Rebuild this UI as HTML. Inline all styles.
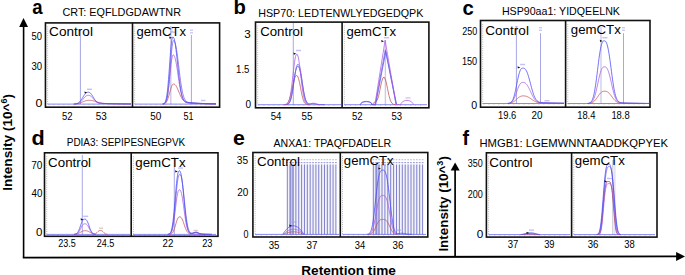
<!DOCTYPE html><html><head><meta charset="utf-8"><style>html,body{margin:0;padding:0;background:#fff;width:685px;height:275px;overflow:hidden}svg{display:block}text{font-family:"Liberation Sans", sans-serif}</style></head><body>
<svg width="685" height="275" viewBox="0 0 685 275">
<line x1="47.65" y1="26.40" x2="47.65" y2="104.10" stroke="#8c8c8c" stroke-width="0.75" stroke-dasharray="0.8 1.4"/>
<line x1="48.45" y1="104.90" x2="128.50" y2="104.90" stroke="#a8a8a8" stroke-width="0.60" stroke-dasharray="0.8 4.2"/>
<line x1="134.70" y1="26.40" x2="134.70" y2="104.10" stroke="#8c8c8c" stroke-width="0.75" stroke-dasharray="0.8 1.4"/>
<line x1="135.50" y1="104.90" x2="215.60" y2="104.90" stroke="#a8a8a8" stroke-width="0.60" stroke-dasharray="0.8 4.2"/>
<line x1="257.70" y1="25.60" x2="257.70" y2="104.70" stroke="#8c8c8c" stroke-width="0.75" stroke-dasharray="0.8 1.4"/>
<line x1="258.50" y1="105.50" x2="338.10" y2="105.50" stroke="#a8a8a8" stroke-width="0.60" stroke-dasharray="0.8 4.2"/>
<line x1="344.30" y1="25.60" x2="344.30" y2="104.70" stroke="#8c8c8c" stroke-width="0.75" stroke-dasharray="0.8 1.4"/>
<line x1="345.10" y1="105.50" x2="424.90" y2="105.50" stroke="#a8a8a8" stroke-width="0.60" stroke-dasharray="0.8 4.2"/>
<line x1="482.70" y1="24.00" x2="482.70" y2="103.50" stroke="#8c8c8c" stroke-width="0.75" stroke-dasharray="0.8 1.4"/>
<line x1="483.50" y1="104.30" x2="561.60" y2="104.30" stroke="#a8a8a8" stroke-width="0.60" stroke-dasharray="0.8 4.2"/>
<line x1="567.80" y1="24.00" x2="567.80" y2="103.50" stroke="#8c8c8c" stroke-width="0.75" stroke-dasharray="0.8 1.4"/>
<line x1="568.60" y1="104.30" x2="646.00" y2="104.30" stroke="#a8a8a8" stroke-width="0.60" stroke-dasharray="0.8 4.2"/>
<line x1="46.70" y1="156.30" x2="46.70" y2="234.40" stroke="#8c8c8c" stroke-width="0.75" stroke-dasharray="0.8 1.4"/>
<line x1="47.50" y1="235.20" x2="127.20" y2="235.20" stroke="#a8a8a8" stroke-width="0.60" stroke-dasharray="0.8 4.2"/>
<line x1="133.40" y1="156.30" x2="133.40" y2="234.40" stroke="#8c8c8c" stroke-width="0.75" stroke-dasharray="0.8 1.4"/>
<line x1="134.20" y1="235.20" x2="214.00" y2="235.20" stroke="#a8a8a8" stroke-width="0.60" stroke-dasharray="0.8 4.2"/>
<line x1="255.10" y1="156.00" x2="255.10" y2="234.40" stroke="#8c8c8c" stroke-width="0.75" stroke-dasharray="0.8 1.4"/>
<line x1="255.90" y1="235.20" x2="336.30" y2="235.20" stroke="#a8a8a8" stroke-width="0.60" stroke-dasharray="0.8 4.2"/>
<line x1="342.50" y1="156.00" x2="342.50" y2="234.40" stroke="#8c8c8c" stroke-width="0.75" stroke-dasharray="0.8 1.4"/>
<line x1="343.30" y1="235.20" x2="423.80" y2="235.20" stroke="#a8a8a8" stroke-width="0.60" stroke-dasharray="0.8 4.2"/>
<line x1="488.60" y1="156.30" x2="488.60" y2="234.60" stroke="#8c8c8c" stroke-width="0.75" stroke-dasharray="0.8 1.4"/>
<line x1="489.40" y1="235.40" x2="567.60" y2="235.40" stroke="#a8a8a8" stroke-width="0.60" stroke-dasharray="0.8 4.2"/>
<line x1="573.80" y1="156.30" x2="573.80" y2="234.60" stroke="#8c8c8c" stroke-width="0.75" stroke-dasharray="0.8 1.4"/>
<line x1="574.60" y1="235.40" x2="653.00" y2="235.40" stroke="#a8a8a8" stroke-width="0.60" stroke-dasharray="0.8 4.2"/>
<rect x="287.30" y="164.50" width="48.62" height="69.90" fill="#f2f2fa"/>
<rect x="289.30" y="164.50" width="4.60" height="69.90" fill="#c4c4e6"/>
<line x1="287.30" y1="164.50" x2="287.30" y2="234.40" stroke="#6c6cc4" stroke-width="0.85" />
<line x1="290.16" y1="164.50" x2="290.16" y2="234.40" stroke="#6c6cc4" stroke-width="0.85" />
<line x1="293.02" y1="164.50" x2="293.02" y2="234.40" stroke="#6c6cc4" stroke-width="0.85" />
<line x1="295.88" y1="164.50" x2="295.88" y2="234.40" stroke="#6c6cc4" stroke-width="0.85" />
<line x1="298.74" y1="164.50" x2="298.74" y2="234.40" stroke="#6c6cc4" stroke-width="0.85" />
<line x1="301.60" y1="164.50" x2="301.60" y2="234.40" stroke="#6c6cc4" stroke-width="0.85" />
<line x1="304.46" y1="164.50" x2="304.46" y2="234.40" stroke="#6c6cc4" stroke-width="0.85" />
<line x1="307.32" y1="164.50" x2="307.32" y2="234.40" stroke="#6c6cc4" stroke-width="0.85" />
<line x1="310.18" y1="164.50" x2="310.18" y2="234.40" stroke="#6c6cc4" stroke-width="0.85" />
<line x1="313.04" y1="164.50" x2="313.04" y2="234.40" stroke="#6c6cc4" stroke-width="0.85" />
<line x1="315.90" y1="164.50" x2="315.90" y2="234.40" stroke="#6c6cc4" stroke-width="0.85" />
<line x1="318.76" y1="164.50" x2="318.76" y2="234.40" stroke="#6c6cc4" stroke-width="0.85" />
<line x1="321.62" y1="164.50" x2="321.62" y2="234.40" stroke="#6c6cc4" stroke-width="0.85" />
<line x1="324.48" y1="164.50" x2="324.48" y2="234.40" stroke="#6c6cc4" stroke-width="0.85" />
<line x1="327.34" y1="164.50" x2="327.34" y2="234.40" stroke="#6c6cc4" stroke-width="0.85" />
<line x1="330.20" y1="164.50" x2="330.20" y2="234.40" stroke="#6c6cc4" stroke-width="0.85" />
<line x1="333.06" y1="164.50" x2="333.06" y2="234.40" stroke="#6c6cc4" stroke-width="0.85" />
<line x1="335.92" y1="164.50" x2="335.92" y2="234.40" stroke="#6c6cc4" stroke-width="0.85" />
<rect x="286.50" y="159.30" width="1.6" height="0.9" fill="#a8a8dc"/>
<rect x="286.40" y="162.10" width="1.8" height="1.1" fill="#9898d4"/>
<rect x="289.36" y="159.30" width="1.6" height="0.9" fill="#a8a8dc"/>
<rect x="289.26" y="162.10" width="1.8" height="1.1" fill="#9898d4"/>
<rect x="292.22" y="159.30" width="1.6" height="0.9" fill="#a8a8dc"/>
<rect x="292.12" y="162.10" width="1.8" height="1.1" fill="#9898d4"/>
<rect x="295.08" y="159.30" width="1.6" height="0.9" fill="#a8a8dc"/>
<rect x="294.98" y="162.10" width="1.8" height="1.1" fill="#9898d4"/>
<rect x="297.94" y="159.30" width="1.6" height="0.9" fill="#a8a8dc"/>
<rect x="297.84" y="162.10" width="1.8" height="1.1" fill="#9898d4"/>
<rect x="300.80" y="159.30" width="1.6" height="0.9" fill="#a8a8dc"/>
<rect x="300.70" y="162.10" width="1.8" height="1.1" fill="#9898d4"/>
<rect x="303.66" y="159.30" width="1.6" height="0.9" fill="#a8a8dc"/>
<rect x="303.56" y="162.10" width="1.8" height="1.1" fill="#9898d4"/>
<rect x="306.52" y="159.30" width="1.6" height="0.9" fill="#a8a8dc"/>
<rect x="306.42" y="162.10" width="1.8" height="1.1" fill="#9898d4"/>
<rect x="309.38" y="159.30" width="1.6" height="0.9" fill="#a8a8dc"/>
<rect x="309.28" y="162.10" width="1.8" height="1.1" fill="#9898d4"/>
<rect x="312.24" y="159.30" width="1.6" height="0.9" fill="#a8a8dc"/>
<rect x="312.14" y="162.10" width="1.8" height="1.1" fill="#9898d4"/>
<rect x="315.10" y="159.30" width="1.6" height="0.9" fill="#a8a8dc"/>
<rect x="315.00" y="162.10" width="1.8" height="1.1" fill="#9898d4"/>
<rect x="317.96" y="159.30" width="1.6" height="0.9" fill="#a8a8dc"/>
<rect x="317.86" y="162.10" width="1.8" height="1.1" fill="#9898d4"/>
<rect x="320.82" y="159.30" width="1.6" height="0.9" fill="#a8a8dc"/>
<rect x="320.72" y="162.10" width="1.8" height="1.1" fill="#9898d4"/>
<rect x="323.68" y="159.30" width="1.6" height="0.9" fill="#a8a8dc"/>
<rect x="323.58" y="162.10" width="1.8" height="1.1" fill="#9898d4"/>
<rect x="326.54" y="159.30" width="1.6" height="0.9" fill="#a8a8dc"/>
<rect x="326.44" y="162.10" width="1.8" height="1.1" fill="#9898d4"/>
<rect x="329.40" y="159.30" width="1.6" height="0.9" fill="#a8a8dc"/>
<rect x="329.30" y="162.10" width="1.8" height="1.1" fill="#9898d4"/>
<rect x="332.26" y="159.30" width="1.6" height="0.9" fill="#a8a8dc"/>
<rect x="332.16" y="162.10" width="1.8" height="1.1" fill="#9898d4"/>
<rect x="335.12" y="159.30" width="1.6" height="0.9" fill="#a8a8dc"/>
<rect x="335.02" y="162.10" width="1.8" height="1.1" fill="#9898d4"/>
<rect x="373.30" y="164.50" width="49.30" height="69.90" fill="#f2f2fa"/>
<rect x="374.80" y="164.50" width="4.40" height="69.90" fill="#c4c4e6"/>
<line x1="373.30" y1="164.50" x2="373.30" y2="234.40" stroke="#6c6cc4" stroke-width="0.85" />
<line x1="376.20" y1="164.50" x2="376.20" y2="234.40" stroke="#6c6cc4" stroke-width="0.85" />
<line x1="379.10" y1="164.50" x2="379.10" y2="234.40" stroke="#6c6cc4" stroke-width="0.85" />
<line x1="382.00" y1="164.50" x2="382.00" y2="234.40" stroke="#6c6cc4" stroke-width="0.85" />
<line x1="384.90" y1="164.50" x2="384.90" y2="234.40" stroke="#6c6cc4" stroke-width="0.85" />
<line x1="387.80" y1="164.50" x2="387.80" y2="234.40" stroke="#6c6cc4" stroke-width="0.85" />
<line x1="390.70" y1="164.50" x2="390.70" y2="234.40" stroke="#6c6cc4" stroke-width="0.85" />
<line x1="393.60" y1="164.50" x2="393.60" y2="234.40" stroke="#6c6cc4" stroke-width="0.85" />
<line x1="396.50" y1="164.50" x2="396.50" y2="234.40" stroke="#6c6cc4" stroke-width="0.85" />
<line x1="399.40" y1="164.50" x2="399.40" y2="234.40" stroke="#6c6cc4" stroke-width="0.85" />
<line x1="402.30" y1="164.50" x2="402.30" y2="234.40" stroke="#6c6cc4" stroke-width="0.85" />
<line x1="405.20" y1="164.50" x2="405.20" y2="234.40" stroke="#6c6cc4" stroke-width="0.85" />
<line x1="408.10" y1="164.50" x2="408.10" y2="234.40" stroke="#6c6cc4" stroke-width="0.85" />
<line x1="411.00" y1="164.50" x2="411.00" y2="234.40" stroke="#6c6cc4" stroke-width="0.85" />
<line x1="413.90" y1="164.50" x2="413.90" y2="234.40" stroke="#6c6cc4" stroke-width="0.85" />
<line x1="416.80" y1="164.50" x2="416.80" y2="234.40" stroke="#6c6cc4" stroke-width="0.85" />
<line x1="419.70" y1="164.50" x2="419.70" y2="234.40" stroke="#6c6cc4" stroke-width="0.85" />
<line x1="422.60" y1="164.50" x2="422.60" y2="234.40" stroke="#6c6cc4" stroke-width="0.85" />
<rect x="372.50" y="159.30" width="1.6" height="0.9" fill="#a8a8dc"/>
<rect x="372.40" y="162.10" width="1.8" height="1.1" fill="#9898d4"/>
<rect x="375.40" y="159.30" width="1.6" height="0.9" fill="#a8a8dc"/>
<rect x="375.30" y="162.10" width="1.8" height="1.1" fill="#9898d4"/>
<rect x="378.30" y="159.30" width="1.6" height="0.9" fill="#a8a8dc"/>
<rect x="378.20" y="162.10" width="1.8" height="1.1" fill="#9898d4"/>
<rect x="381.20" y="159.30" width="1.6" height="0.9" fill="#a8a8dc"/>
<rect x="381.10" y="162.10" width="1.8" height="1.1" fill="#9898d4"/>
<rect x="384.10" y="159.30" width="1.6" height="0.9" fill="#a8a8dc"/>
<rect x="384.00" y="162.10" width="1.8" height="1.1" fill="#9898d4"/>
<rect x="387.00" y="159.30" width="1.6" height="0.9" fill="#a8a8dc"/>
<rect x="386.90" y="162.10" width="1.8" height="1.1" fill="#9898d4"/>
<rect x="389.90" y="159.30" width="1.6" height="0.9" fill="#a8a8dc"/>
<rect x="389.80" y="162.10" width="1.8" height="1.1" fill="#9898d4"/>
<rect x="392.80" y="159.30" width="1.6" height="0.9" fill="#a8a8dc"/>
<rect x="392.70" y="162.10" width="1.8" height="1.1" fill="#9898d4"/>
<rect x="395.70" y="159.30" width="1.6" height="0.9" fill="#a8a8dc"/>
<rect x="395.60" y="162.10" width="1.8" height="1.1" fill="#9898d4"/>
<rect x="398.60" y="159.30" width="1.6" height="0.9" fill="#a8a8dc"/>
<rect x="398.50" y="162.10" width="1.8" height="1.1" fill="#9898d4"/>
<rect x="401.50" y="159.30" width="1.6" height="0.9" fill="#a8a8dc"/>
<rect x="401.40" y="162.10" width="1.8" height="1.1" fill="#9898d4"/>
<rect x="404.40" y="159.30" width="1.6" height="0.9" fill="#a8a8dc"/>
<rect x="404.30" y="162.10" width="1.8" height="1.1" fill="#9898d4"/>
<rect x="407.30" y="159.30" width="1.6" height="0.9" fill="#a8a8dc"/>
<rect x="407.20" y="162.10" width="1.8" height="1.1" fill="#9898d4"/>
<rect x="410.20" y="159.30" width="1.6" height="0.9" fill="#a8a8dc"/>
<rect x="410.10" y="162.10" width="1.8" height="1.1" fill="#9898d4"/>
<rect x="413.10" y="159.30" width="1.6" height="0.9" fill="#a8a8dc"/>
<rect x="413.00" y="162.10" width="1.8" height="1.1" fill="#9898d4"/>
<rect x="416.00" y="159.30" width="1.6" height="0.9" fill="#a8a8dc"/>
<rect x="415.90" y="162.10" width="1.8" height="1.1" fill="#9898d4"/>
<rect x="418.90" y="159.30" width="1.6" height="0.9" fill="#a8a8dc"/>
<rect x="418.80" y="162.10" width="1.8" height="1.1" fill="#9898d4"/>
<rect x="421.80" y="159.30" width="1.6" height="0.9" fill="#a8a8dc"/>
<rect x="421.70" y="162.10" width="1.8" height="1.1" fill="#9898d4"/>
<line x1="80.40" y1="29.50" x2="80.40" y2="104.10" stroke="#9090e0" stroke-width="0.80" />
<line x1="47.50" y1="104.10" x2="131.00" y2="104.10" stroke="#5656ee" stroke-width="0.70" />
<path d="M73.50,104.03 L74.00,104.01 L74.50,103.98 L75.00,103.95 L75.50,103.91 L76.00,103.85 L76.50,103.79 L77.00,103.72 L77.50,103.63 L78.00,103.53 L78.50,103.41 L79.00,103.28 L79.50,103.14 L80.00,102.98 L80.50,102.80 L81.00,102.62 L81.50,102.42 L82.00,102.22 L82.50,102.01 L83.00,101.80 L83.50,101.59 L84.00,101.38 L84.50,101.19 L85.00,101.00 L85.50,100.84 L86.00,100.69 L86.50,100.57 L87.00,100.47 L87.50,100.39 L88.00,100.34 L88.50,100.31 L89.00,100.30 L89.50,100.30 L90.00,100.32 L90.50,100.35 L91.00,100.40 L91.50,100.47 L92.00,100.55 L92.50,100.64 L93.00,100.75 L93.50,100.88 L94.00,101.01 L94.50,101.16 L95.00,101.31 L95.50,101.47 L96.00,101.63 L96.50,101.80 L97.00,101.96 L97.50,102.12 L98.00,102.27 L98.50,102.41 L99.00,102.55 L99.50,102.68 L100.00,102.80 L100.50,102.91 L101.00,103.01 L101.50,103.10 L102.00,103.18 L102.50,103.25 L103.00,103.32 L103.50,103.37 L104.00,103.42 L104.50,103.46 L105.00,103.50 L105.50,103.53 L106.00,103.56 L106.50,103.58 L107.00,103.61 L107.50,103.63 L108.00,103.64 L108.50,103.66 L109.00,103.67 L109.50,103.68 L110.00,103.70 L110.50,103.71 L111.00,103.72 L111.50,103.73 L112.00,103.74 L112.50,103.75 L113.00,103.76 L113.50,103.76 L114.00,103.77 L114.50,103.78 L115.00,103.79 L115.50,103.80 L116.00,103.80 L116.50,103.81 L117.00,103.82 L117.50,103.83 L118.00,103.83 L118.50,103.84 L119.00,103.85 L119.50,103.85 L120.00,103.86 L120.50,103.86 L121.00,103.87 L121.50,103.88 L122.00,103.88 L122.50,103.89 L123.00,103.89 L123.50,103.90 L124.00,103.90 L124.50,103.91 L125.00,103.91 L125.50,103.92 L126.00,103.92 L126.50,103.93 L127.00,103.93 L127.50,103.93 L128.00,103.94 L128.50,103.94 L129.00,103.95 L129.50,103.95 L130.00,103.95 L130.50,103.96 L131.00,103.96" fill="none" stroke="#c05050" stroke-width="0.75" stroke-linejoin="round"/>
<path d="M75.00,104.03 L75.50,103.99 L76.00,103.94 L76.50,103.88 L77.00,103.78 L77.50,103.66 L78.00,103.51 L78.50,103.31 L79.00,103.06 L79.50,102.76 L80.00,102.41 L80.50,102.00 L81.00,101.53 L81.50,101.02 L82.00,100.46 L82.50,99.87 L83.00,99.26 L83.50,98.64 L84.00,98.04 L84.50,97.46 L85.00,96.94 L85.50,96.47 L86.00,96.08 L86.50,95.76 L87.00,95.53 L87.50,95.38 L88.00,95.31 L88.50,95.30 L89.00,95.33 L89.50,95.44 L90.00,95.63 L90.50,95.90 L91.00,96.26 L91.50,96.70 L92.00,97.21 L92.50,97.76 L93.00,98.35 L93.50,98.95 L94.00,99.55 L94.50,100.12 L95.00,100.66 L95.50,101.15 L96.00,101.58 L96.50,101.96 L97.00,102.28 L97.50,102.54 L98.00,102.75 L98.50,102.93 L99.00,103.06 L99.50,103.16 L100.00,103.24 L100.50,103.30 L101.00,103.35 L101.50,103.38 L102.00,103.41 L102.50,103.44 L103.00,103.46 L103.50,103.48 L104.00,103.49 L104.50,103.51 L105.00,103.52 L105.50,103.54 L106.00,103.55 L106.50,103.57 L107.00,103.58 L107.50,103.59 L108.00,103.60 L108.50,103.62 L109.00,103.63 L109.50,103.64 L110.00,103.65 L110.50,103.66 L111.00,103.67 L111.50,103.68 L112.00,103.69 L112.50,103.70 L113.00,103.71 L113.50,103.72 L114.00,103.73 L114.50,103.74 L115.00,103.75 L115.50,103.76 L116.00,103.77 L116.50,103.78 L117.00,103.78 L117.50,103.79 L118.00,103.80 L118.50,103.81 L119.00,103.81 L119.50,103.82 L120.00,103.83 L120.50,103.83 L121.00,103.84 L121.50,103.85 L122.00,103.85 L122.50,103.86 L123.00,103.87 L123.50,103.87 L124.00,103.88 L124.50,103.88 L125.00,103.89 L125.50,103.89 L126.00,103.90 L126.50,103.90 L127.00,103.91 L127.50,103.91 L128.00,103.92 L128.50,103.92 L129.00,103.93 L129.50,103.93 L130.00,103.94 L130.50,103.94 L131.00,103.94" fill="none" stroke="#aa5ade" stroke-width="0.75" stroke-linejoin="round"/>
<path d="M74.00,104.04 L74.50,104.01 L75.00,103.96 L75.50,103.90 L76.00,103.81 L76.50,103.69 L77.00,103.54 L77.50,103.34 L78.00,103.09 L78.50,102.77 L79.00,102.39 L79.50,101.94 L80.00,101.42 L80.50,100.82 L81.00,100.16 L81.50,99.44 L82.00,98.66 L82.50,97.86 L83.00,97.05 L83.50,96.24 L84.00,95.46 L84.50,94.73 L85.00,94.07 L85.50,93.50 L86.00,93.03 L86.50,92.67 L87.00,92.41 L87.50,92.26 L88.00,92.20 L88.50,92.21 L89.00,92.29 L89.50,92.48 L90.00,92.79 L90.50,93.23 L91.00,93.77 L91.50,94.42 L92.00,95.15 L92.50,95.94 L93.00,96.77 L93.50,97.60 L94.00,98.41 L94.50,99.18 L95.00,99.90 L95.50,100.54 L96.00,101.10 L96.50,101.59 L97.00,101.99 L97.50,102.32 L98.00,102.59 L98.50,102.79 L99.00,102.95 L99.50,103.08 L100.00,103.17 L100.50,103.24 L101.00,103.29 L101.50,103.33 L102.00,103.36 L102.50,103.39 L103.00,103.41 L103.50,103.43 L104.00,103.45 L104.50,103.47 L105.00,103.48 L105.50,103.50 L106.00,103.51 L106.50,103.53 L107.00,103.54 L107.50,103.56 L108.00,103.57 L108.50,103.58 L109.00,103.60 L109.50,103.61 L110.00,103.62 L110.50,103.63 L111.00,103.64 L111.50,103.65 L112.00,103.67 L112.50,103.68 L113.00,103.69 L113.50,103.70 L114.00,103.71 L114.50,103.72 L115.00,103.73 L115.50,103.74 L116.00,103.74 L116.50,103.75 L117.00,103.76 L117.50,103.77 L118.00,103.78 L118.50,103.79 L119.00,103.79 L119.50,103.80 L120.00,103.81 L120.50,103.82 L121.00,103.82 L121.50,103.83 L122.00,103.84 L122.50,103.84 L123.00,103.85 L123.50,103.86 L124.00,103.86 L124.50,103.87 L125.00,103.87 L125.50,103.88 L126.00,103.88 L126.50,103.89 L127.00,103.89 L127.50,103.90 L128.00,103.90 L128.50,103.91 L129.00,103.91 L129.50,103.92 L130.00,103.92 L130.50,103.93 L131.00,103.93" fill="none" stroke="#4545f8" stroke-width="0.75" stroke-linejoin="round"/>
<line x1="170.80" y1="26.00" x2="170.80" y2="104.10" stroke="#cfc8ec" stroke-width="1.40" />
<line x1="191.40" y1="35.00" x2="191.40" y2="104.10" stroke="#9090e0" stroke-width="0.80" />
<line x1="134.50" y1="104.10" x2="216.00" y2="104.10" stroke="#5656ee" stroke-width="0.70" />
<path d="M162.50,104.04 L163.00,104.00 L163.50,103.92 L164.00,103.81 L164.50,103.63 L165.00,103.37 L165.50,102.99 L166.00,102.47 L166.50,101.78 L167.00,100.89 L167.50,99.78 L168.00,98.46 L168.50,96.92 L169.00,95.22 L169.50,93.40 L170.00,91.54 L170.50,89.72 L171.00,88.04 L171.50,86.58 L172.00,85.41 L172.50,84.59 L173.00,84.13 L173.50,84.00 L174.00,84.05 L174.50,84.25 L175.00,84.60 L175.50,85.12 L176.00,85.81 L176.50,86.64 L177.00,87.61 L177.50,88.68 L178.00,89.84 L178.50,91.04 L179.00,92.27 L179.50,93.48 L180.00,94.67 L180.50,95.79 L181.00,96.84 L181.50,97.79 L182.00,98.65 L182.50,99.41 L183.00,100.07 L183.50,100.63 L184.00,101.10 L184.50,101.49 L185.00,101.81 L185.50,102.07 L186.00,102.28 L186.50,102.45 L187.00,102.58 L187.50,102.69 L188.00,102.78 L188.50,102.85 L189.00,102.91 L189.50,102.96 L190.00,103.01 L190.50,103.05 L191.00,103.08 L191.50,103.12 L192.00,103.15 L192.50,103.18 L193.00,103.21 L193.50,103.24 L194.00,103.26 L194.50,103.29 L195.00,103.31 L195.50,103.34 L196.00,103.36 L196.50,103.38 L197.00,103.41 L197.50,103.43 L198.00,103.45 L198.50,103.47 L199.00,103.49 L199.50,103.51 L200.00,103.52 L200.50,103.54 L201.00,103.56 L201.50,103.58 L202.00,103.59 L202.50,103.61 L203.00,103.62 L203.50,103.64 L204.00,103.65 L204.50,103.67 L205.00,103.68 L205.50,103.69 L206.00,103.70 L206.50,103.72 L207.00,103.73 L207.50,103.74 L208.00,103.75 L208.50,103.76 L209.00,103.77 L209.50,103.78 L210.00,103.79 L210.50,103.80 L211.00,103.81 L211.50,103.82 L212.00,103.83 L212.50,103.84 L213.00,103.84 L213.50,103.85 L214.00,103.86 L214.50,103.87 L215.00,103.87 L215.50,103.88 L216.00,103.89" fill="none" stroke="#c05050" stroke-width="0.75" stroke-linejoin="round"/>
<path d="M163.00,104.02 L163.50,103.94 L164.00,103.80 L164.50,103.56 L165.00,103.16 L165.50,102.54 L166.00,101.59 L166.50,100.22 L167.00,98.33 L167.50,95.81 L168.00,92.62 L168.50,88.75 L169.00,84.29 L169.50,79.38 L170.00,74.26 L170.50,69.22 L171.00,64.59 L171.50,60.65 L172.00,57.66 L172.50,55.76 L173.00,54.96 L173.50,54.96 L174.00,55.39 L174.50,56.32 L175.00,57.76 L175.50,59.71 L176.00,62.12 L176.50,64.91 L177.00,68.02 L177.50,71.34 L178.00,74.76 L178.50,78.20 L179.00,81.54 L179.50,84.72 L180.00,87.67 L180.50,90.34 L181.00,92.70 L181.50,94.75 L182.00,96.48 L182.50,97.93 L183.00,99.10 L183.50,100.04 L184.00,100.78 L184.50,101.35 L185.00,101.79 L185.50,102.12 L186.00,102.36 L186.50,102.54 L187.00,102.68 L187.50,102.78 L188.00,102.86 L188.50,102.92 L189.00,102.98 L189.50,103.02 L190.00,103.06 L190.50,103.09 L191.00,103.13 L191.50,103.16 L192.00,103.19 L192.50,103.22 L193.00,103.24 L193.50,103.27 L194.00,103.30 L194.50,103.32 L195.00,103.34 L195.50,103.37 L196.00,103.39 L196.50,103.41 L197.00,103.43 L197.50,103.45 L198.00,103.47 L198.50,103.49 L199.00,103.51 L199.50,103.53 L200.00,103.55 L200.50,103.56 L201.00,103.58 L201.50,103.60 L202.00,103.61 L202.50,103.63 L203.00,103.64 L203.50,103.66 L204.00,103.67 L204.50,103.68 L205.00,103.70 L205.50,103.71 L206.00,103.72 L206.50,103.73 L207.00,103.74 L207.50,103.75 L208.00,103.76 L208.50,103.77 L209.00,103.78 L209.50,103.79 L210.00,103.80 L210.50,103.81 L211.00,103.82 L211.50,103.83 L212.00,103.84 L212.50,103.85 L213.00,103.85 L213.50,103.86 L214.00,103.87 L214.50,103.88 L215.00,103.88 L215.50,103.89 L216.00,103.90" fill="none" stroke="#aa5ade" stroke-width="0.75" stroke-linejoin="round"/>
<path d="M163.00,104.04 L163.50,103.98 L164.00,103.87 L164.50,103.67 L165.00,103.32 L165.50,102.76 L166.00,101.88 L166.50,100.56 L167.00,98.67 L167.50,96.06 L168.00,92.64 L168.50,88.35 L169.00,83.19 L169.50,77.30 L170.00,70.88 L170.50,64.26 L171.00,57.83 L171.50,52.00 L172.00,47.15 L172.50,43.56 L173.00,41.39 L173.50,40.62 L174.00,40.72 L174.50,41.32 L175.00,42.48 L175.50,44.23 L176.00,46.55 L176.50,49.40 L177.00,52.71 L177.50,56.40 L178.00,60.36 L178.50,64.48 L179.00,68.66 L179.50,72.78 L180.00,76.76 L180.50,80.52 L181.00,83.99 L181.50,87.13 L182.00,89.93 L182.50,92.36 L183.00,94.44 L183.50,96.18 L184.00,97.63 L184.50,98.80 L185.00,99.73 L185.50,100.47 L186.00,101.04 L186.50,101.48 L187.00,101.81 L187.50,102.07 L188.00,102.26 L188.50,102.41 L189.00,102.52 L189.50,102.61 L190.00,102.68 L190.50,102.74 L191.00,102.80 L191.50,102.84 L192.00,102.89 L192.50,102.93 L193.00,102.96 L193.50,103.00 L194.00,103.03 L194.50,103.07 L195.00,103.10 L195.50,103.13 L196.00,103.16 L196.50,103.19 L197.00,103.22 L197.50,103.24 L198.00,103.27 L198.50,103.30 L199.00,103.32 L199.50,103.35 L200.00,103.37 L200.50,103.39 L201.00,103.41 L201.50,103.43 L202.00,103.45 L202.50,103.47 L203.00,103.49 L203.50,103.51 L204.00,103.53 L204.50,103.55 L205.00,103.56 L205.50,103.58 L206.00,103.60 L206.50,103.61 L207.00,103.63 L207.50,103.64 L208.00,103.66 L208.50,103.67 L209.00,103.68 L209.50,103.70 L210.00,103.71 L210.50,103.72 L211.00,103.73 L211.50,103.74 L212.00,103.75 L212.50,103.76 L213.00,103.78 L213.50,103.79 L214.00,103.79 L214.50,103.80 L215.00,103.81 L215.50,103.82 L216.00,103.83" fill="none" stroke="#7060e0" stroke-width="0.75" stroke-linejoin="round"/>
<path d="M162.50,104.02 L163.00,103.93 L163.50,103.78 L164.00,103.52 L164.50,103.07 L165.00,102.36 L165.50,101.25 L166.00,99.63 L166.50,97.35 L167.00,94.26 L167.50,90.27 L168.00,85.35 L168.50,79.56 L169.00,73.07 L169.50,66.15 L170.00,59.17 L170.50,52.57 L171.00,46.77 L171.50,42.14 L172.00,38.93 L172.50,37.25 L173.00,36.91 L173.50,37.28 L174.00,38.31 L174.50,40.08 L175.00,42.58 L175.50,45.76 L176.00,49.53 L176.50,53.77 L177.00,58.34 L177.50,63.10 L178.00,67.90 L178.50,72.60 L179.00,77.07 L179.50,81.23 L180.00,84.99 L180.50,88.32 L181.00,91.20 L181.50,93.63 L182.00,95.65 L182.50,97.29 L183.00,98.59 L183.50,99.60 L184.00,100.38 L184.50,100.97 L185.00,101.41 L185.50,101.74 L186.00,101.98 L186.50,102.16 L187.00,102.29 L187.50,102.40 L188.00,102.48 L188.50,102.55 L189.00,102.61 L189.50,102.66 L190.00,102.71 L190.50,102.76 L191.00,102.80 L191.50,102.84 L192.00,102.88 L192.50,102.92 L193.00,102.95 L193.50,102.99 L194.00,103.02 L194.50,103.05 L195.00,103.09 L195.50,103.12 L196.00,103.15 L196.50,103.18 L197.00,103.21 L197.50,103.23 L198.00,103.26 L198.50,103.29 L199.00,103.31 L199.50,103.34 L200.00,103.36 L200.50,103.38 L201.00,103.40 L201.50,103.43 L202.00,103.45 L202.50,103.47 L203.00,103.49 L203.50,103.50 L204.00,103.52 L204.50,103.54 L205.00,103.56 L205.50,103.57 L206.00,103.59 L206.50,103.61 L207.00,103.62 L207.50,103.64 L208.00,103.65 L208.50,103.66 L209.00,103.68 L209.50,103.69 L210.00,103.70 L210.50,103.72 L211.00,103.73 L211.50,103.74 L212.00,103.75 L212.50,103.76 L213.00,103.77 L213.50,103.78 L214.00,103.79 L214.50,103.80 L215.00,103.81 L215.50,103.82 L216.00,103.83" fill="none" stroke="#4545f8" stroke-width="0.75" stroke-linejoin="round"/>
<line x1="293.30" y1="23.00" x2="293.30" y2="104.70" stroke="#9090e0" stroke-width="0.80" />
<line x1="257.50" y1="104.70" x2="341.00" y2="104.70" stroke="#5656ee" stroke-width="0.70" />
<path d="M283.50,104.67 L284.50,104.60 L285.50,104.43 L286.50,104.02 L287.50,103.19 L288.50,101.67 L289.50,99.22 L290.50,95.72 L291.50,91.33 L292.50,86.51 L293.50,81.93 L294.50,78.32 L295.50,76.16 L296.50,75.50 L297.50,76.03 L298.50,78.32 L299.50,82.38 L300.50,87.53 L301.50,92.80 L302.50,97.32 L303.50,100.63 L304.50,102.72 L305.50,103.85 L306.50,104.38 L307.50,104.60 L308.50,104.67" fill="none" stroke="#c05050" stroke-width="0.75" stroke-linejoin="round"/>
<path d="M285.50,104.67 L286.50,104.58 L287.50,104.34 L288.50,103.74 L289.50,102.46 L290.50,100.06 L291.50,96.19 L292.50,90.75 L293.50,84.16 L294.50,77.38 L295.50,71.60 L296.50,67.80 L297.50,66.35 L298.50,66.62 L299.50,68.69 L300.50,72.83 L301.50,78.57 L302.50,84.98 L303.50,91.06 L304.50,96.06 L305.50,99.66 L306.50,101.93 L307.50,103.17 L308.50,103.72 L309.50,103.86 L310.50,103.79 L311.50,103.64 L312.50,103.55 L313.50,103.58 L314.50,103.73 L315.50,103.96 L316.50,104.18 L317.50,104.36 L318.50,104.47 L319.50,104.54 L320.50,104.57 L321.50,104.59 L322.50,104.60 L323.50,104.61 L324.50,104.62" fill="none" stroke="#4545f8" stroke-width="0.75" stroke-linejoin="round"/>
<path d="M285.50,104.67 L286.50,104.60 L287.50,104.39 L288.50,103.86 L289.50,102.68 L290.50,100.43 L291.50,96.68 L292.50,91.25 L293.50,84.49 L294.50,77.27 L295.50,70.86 L296.50,66.39 L297.50,64.38 L298.50,64.37 L299.50,66.27 L300.50,70.52 L301.50,76.66 L302.50,83.67 L303.50,90.39 L304.50,95.91 L305.50,99.85 L306.50,102.31 L307.50,103.65 L308.50,104.29 L309.50,104.56 L310.50,104.66" fill="none" stroke="#7060e0" stroke-width="0.75" stroke-linejoin="round"/>
<path d="M284.50,104.65 L285.50,104.55 L286.50,104.26 L287.50,103.56 L288.50,102.07 L289.50,99.25 L290.50,94.59 L291.50,87.86 L292.50,79.42 L293.50,70.33 L294.50,62.17 L295.50,56.48 L296.50,54.10 L297.50,54.61 L298.50,58.14 L299.50,64.65 L300.50,73.06 L301.50,81.88 L302.50,89.73 L303.50,95.81 L304.50,99.93 L305.50,102.39 L306.50,103.66 L307.50,104.21 L308.50,104.33 L309.50,104.20 L310.50,103.92 L311.50,103.58 L312.50,103.31 L313.50,103.20 L314.50,103.31 L315.50,103.58 L316.50,103.93 L317.50,104.24 L318.50,104.46 L319.50,104.60 L320.50,104.66" fill="none" stroke="#aa5ade" stroke-width="0.75" stroke-linejoin="round"/>
<line x1="385.40" y1="40.00" x2="385.40" y2="104.70" stroke="#cfc8ec" stroke-width="1.40" />
<line x1="344.00" y1="104.70" x2="427.00" y2="104.70" stroke="#5656ee" stroke-width="0.70" />
<path d="M371.00,104.63 L372.50,104.14 L374.00,102.75 L375.50,101.36 L377.00,100.62 L378.50,96.69 L380.00,89.54 L381.50,82.07 L383.00,77.63 L384.50,77.47 L386.00,81.40 L387.50,88.47 L389.00,95.72 L390.50,100.82 L392.00,103.40 L393.50,104.37 L395.00,104.64" fill="none" stroke="#c05050" stroke-width="0.75" stroke-linejoin="round"/>
<path d="M360.30,104.70 L360.50,103.86 L362.00,102.40 L363.50,101.78 L365.00,101.48 L366.30,101.40 L366.50,101.40 L368.00,101.54 L369.50,101.91 L371.00,102.65 L372.30,104.70 L372.50,104.70 L374.00,104.70 L375.50,104.70 L375.60,104.70 L377.00,97.36 L378.50,89.49 L380.00,81.62 L381.50,73.75 L383.00,65.89 L384.50,58.02 L385.80,51.20 L386.00,52.19 L387.50,59.62 L389.00,67.05 L390.50,74.48 L392.00,81.91 L393.50,89.34 L395.00,96.77 L396.50,104.20 L396.60,104.70" fill="none" stroke="#4545f8" stroke-width="0.75" stroke-linejoin="round"/>
<path d="M360.30,104.70 L360.50,103.93 L362.00,102.61 L363.50,102.05 L365.00,101.77 L366.30,101.70 L366.50,101.70 L368.00,101.82 L369.50,102.16 L371.00,102.84 L372.30,104.70 L372.50,104.70 L374.00,104.70 L375.20,104.70 L375.50,103.07 L377.00,94.90 L378.50,86.73 L380.00,78.56 L381.50,70.39 L383.00,62.22 L384.50,54.06 L385.30,49.70 L386.00,53.23 L387.50,60.80 L389.00,68.37 L390.50,75.94 L392.00,83.51 L393.50,91.08 L395.00,98.64 L396.20,104.70" fill="none" stroke="#7060e0" stroke-width="0.75" stroke-linejoin="round"/>
<path d="M374.90,104.70 L375.50,100.91 L377.00,91.44 L378.50,81.97 L380.00,72.50 L381.50,63.03 L383.00,53.56 L384.50,44.09 L385.10,40.30 L386.00,45.57 L387.50,54.35 L389.00,63.13 L390.50,71.91 L392.00,80.70 L393.50,89.48 L395.00,98.26 L396.10,104.70 L396.50,104.70 L398.00,104.70 L399.50,104.70 L400.80,104.70 L401.00,103.62 L402.50,101.74 L404.00,100.94 L405.50,100.53 L407.00,100.40 L408.50,100.53 L410.00,100.94 L411.50,101.74 L413.00,103.62 L413.20,104.70" fill="none" stroke="#aa5ade" stroke-width="0.75" stroke-linejoin="round"/>
<line x1="516.40" y1="26.00" x2="516.40" y2="103.50" stroke="#9090e0" stroke-width="0.80" />
<line x1="540.50" y1="33.20" x2="540.50" y2="103.50" stroke="#9090e0" stroke-width="0.80" />
<line x1="482.50" y1="103.50" x2="564.00" y2="103.50" stroke="#5656ee" stroke-width="0.70" />
<path d="M507.50,103.43 L508.00,103.40 L508.50,103.36 L509.00,103.30 L509.50,103.23 L510.00,103.15 L510.50,103.04 L511.00,102.90 L511.50,102.73 L512.00,102.54 L512.50,102.31 L513.00,102.04 L513.50,101.74 L514.00,101.41 L514.50,101.04 L515.00,100.64 L515.50,100.22 L516.00,99.79 L516.50,99.34 L517.00,98.89 L517.50,98.45 L518.00,98.02 L518.50,97.62 L519.00,97.25 L519.50,96.92 L520.00,96.64 L520.50,96.40 L521.00,96.21 L521.50,96.07 L522.00,95.97 L522.50,95.92 L523.00,95.90 L523.50,95.90 L524.00,95.92 L524.50,95.95 L525.00,96.01 L525.50,96.10 L526.00,96.21 L526.50,96.36 L527.00,96.54 L527.50,96.75 L528.00,96.99 L528.50,97.25 L529.00,97.54 L529.50,97.85 L530.00,98.18 L530.50,98.51 L531.00,98.86 L531.50,99.20 L532.00,99.55 L532.50,99.89 L533.00,100.21 L533.50,100.53 L534.00,100.83 L534.50,101.10 L535.00,101.36 L535.50,101.60 L536.00,101.81 L536.50,102.00 L537.00,102.17 L537.50,102.32 L538.00,102.45 L538.50,102.56 L539.00,102.66 L539.50,102.74 L540.00,102.81 L540.50,102.87 L541.00,102.91 L541.50,102.96 L542.00,102.99 L542.50,103.02 L543.00,103.04 L543.50,103.06 L544.00,103.08 L544.50,103.09 L545.00,103.11 L545.50,103.12 L546.00,103.13 L546.50,103.14 L547.00,103.15 L547.50,103.16 L548.00,103.17 L548.50,103.18 L549.00,103.19 L549.50,103.19 L550.00,103.20 L550.50,103.21 L551.00,103.22 L551.50,103.22 L552.00,103.23 L552.50,103.24 L553.00,103.24 L553.50,103.25 L554.00,103.26 L554.50,103.26 L555.00,103.27 L555.50,103.27 L556.00,103.28 L556.50,103.28 L557.00,103.29 L557.50,103.29 L558.00,103.30 L558.50,103.30 L559.00,103.31 L559.50,103.31 L560.00,103.32 L560.50,103.32 L561.00,103.33 L561.50,103.33 L562.00,103.34 L562.50,103.34 L563.00,103.34 L563.50,103.35 L564.00,103.35" fill="none" stroke="#c05050" stroke-width="0.75" stroke-linejoin="round"/>
<path d="M507.50,103.44 L508.00,103.41 L508.50,103.36 L509.00,103.28 L509.50,103.17 L510.00,103.02 L510.50,102.81 L511.00,102.53 L511.50,102.17 L512.00,101.72 L512.50,101.15 L513.00,100.46 L513.50,99.65 L514.00,98.70 L514.50,97.63 L515.00,96.44 L515.50,95.16 L516.00,93.80 L516.50,92.40 L517.00,90.98 L517.50,89.59 L518.00,88.26 L518.50,87.02 L519.00,85.90 L519.50,84.93 L520.00,84.11 L520.50,83.46 L521.00,82.98 L521.50,82.66 L522.00,82.48 L522.50,82.41 L523.00,82.40 L523.50,82.43 L524.00,82.51 L524.50,82.67 L525.00,82.92 L525.50,83.26 L526.00,83.70 L526.50,84.24 L527.00,84.88 L527.50,85.63 L528.00,86.46 L528.50,87.37 L529.00,88.35 L529.50,89.38 L530.00,90.45 L530.50,91.54 L531.00,92.62 L531.50,93.69 L532.00,94.73 L532.50,95.72 L533.00,96.66 L533.50,97.52 L534.00,98.32 L534.50,99.03 L535.00,99.67 L535.50,100.23 L536.00,100.71 L536.50,101.12 L537.00,101.47 L537.50,101.76 L538.00,102.00 L538.50,102.19 L539.00,102.35 L539.50,102.47 L540.00,102.57 L540.50,102.65 L541.00,102.71 L541.50,102.76 L542.00,102.80 L542.50,102.84 L543.00,102.86 L543.50,102.89 L544.00,102.91 L544.50,102.92 L545.00,102.94 L545.50,102.96 L546.00,102.97 L546.50,102.98 L547.00,103.00 L547.50,103.01 L548.00,103.02 L548.50,103.03 L549.00,103.04 L549.50,103.06 L550.00,103.07 L550.50,103.08 L551.00,103.09 L551.50,103.10 L552.00,103.11 L552.50,103.12 L553.00,103.13 L553.50,103.14 L554.00,103.15 L554.50,103.15 L555.00,103.16 L555.50,103.17 L556.00,103.18 L556.50,103.19 L557.00,103.19 L557.50,103.20 L558.00,103.21 L558.50,103.22 L559.00,103.22 L559.50,103.23 L560.00,103.24 L560.50,103.24 L561.00,103.25 L561.50,103.26 L562.00,103.26 L562.50,103.27 L563.00,103.27 L563.50,103.28 L564.00,103.28" fill="none" stroke="#aa5ade" stroke-width="0.75" stroke-linejoin="round"/>
<path d="M508.00,103.43 L508.50,103.38 L509.00,103.31 L509.50,103.19 L510.00,103.01 L510.50,102.76 L511.00,102.40 L511.50,101.91 L512.00,101.25 L512.50,100.41 L513.00,99.34 L513.50,98.04 L514.00,96.49 L514.50,94.69 L515.00,92.66 L515.50,90.43 L516.00,88.04 L516.50,85.55 L517.00,83.03 L517.50,80.55 L518.00,78.17 L518.50,75.97 L519.00,74.00 L519.50,72.30 L520.00,70.90 L520.50,69.81 L521.00,69.01 L521.50,68.49 L522.00,68.21 L522.50,68.11 L523.00,68.10 L523.50,68.14 L524.00,68.26 L524.50,68.50 L525.00,68.89 L525.50,69.43 L526.00,70.15 L526.50,71.05 L527.00,72.13 L527.50,73.40 L528.00,74.83 L528.50,76.41 L529.00,78.12 L529.50,79.93 L530.00,81.80 L530.50,83.72 L531.00,85.64 L531.50,87.52 L532.00,89.35 L532.50,91.09 L533.00,92.72 L533.50,94.22 L534.00,95.57 L534.50,96.79 L535.00,97.85 L535.50,98.77 L536.00,99.54 L536.50,100.20 L537.00,100.73 L537.50,101.17 L538.00,101.51 L538.50,101.79 L539.00,102.00 L539.50,102.17 L540.00,102.29 L540.50,102.39 L541.00,102.46 L541.50,102.52 L542.00,102.57 L542.50,102.60 L543.00,102.63 L543.50,102.66 L544.00,102.68 L544.50,102.70 L545.00,102.72 L545.50,102.74 L546.00,102.76 L546.50,102.78 L547.00,102.79 L547.50,102.81 L548.00,102.82 L548.50,102.84 L549.00,102.85 L549.50,102.87 L550.00,102.88 L550.50,102.90 L551.00,102.91 L551.50,102.92 L552.00,102.94 L552.50,102.95 L553.00,102.96 L553.50,102.97 L554.00,102.99 L554.50,103.00 L555.00,103.01 L555.50,103.02 L556.00,103.03 L556.50,103.04 L557.00,103.05 L557.50,103.06 L558.00,103.07 L558.50,103.08 L559.00,103.09 L559.50,103.10 L560.00,103.11 L560.50,103.12 L561.00,103.13 L561.50,103.13 L562.00,103.14 L562.50,103.15 L563.00,103.16 L563.50,103.17 L564.00,103.17" fill="none" stroke="#4545f8" stroke-width="0.75" stroke-linejoin="round"/>
<line x1="601.00" y1="27.00" x2="601.00" y2="103.50" stroke="#cfc8ec" stroke-width="1.30" />
<line x1="623.50" y1="33.20" x2="623.50" y2="103.50" stroke="#9090e0" stroke-width="0.80" />
<line x1="567.50" y1="103.50" x2="649.00" y2="103.50" stroke="#5656ee" stroke-width="0.70" />
<path d="M588.50,103.42 L589.00,103.38 L589.50,103.33 L590.00,103.26 L590.50,103.16 L591.00,103.04 L591.50,102.89 L592.00,102.69 L592.50,102.45 L593.00,102.15 L593.50,101.80 L594.00,101.39 L594.50,100.93 L595.00,100.40 L595.50,99.82 L596.00,99.18 L596.50,98.50 L597.00,97.80 L597.50,97.07 L598.00,96.33 L598.50,95.61 L599.00,94.90 L599.50,94.24 L600.00,93.62 L600.50,93.06 L601.00,92.58 L601.50,92.16 L602.00,91.83 L602.50,91.57 L603.00,91.39 L603.50,91.28 L604.00,91.22 L604.50,91.20 L605.00,91.21 L605.50,91.24 L606.00,91.32 L606.50,91.45 L607.00,91.65 L607.50,91.91 L608.00,92.25 L608.50,92.65 L609.00,93.12 L609.50,93.65 L610.00,94.24 L610.50,94.87 L611.00,95.53 L611.50,96.21 L612.00,96.90 L612.50,97.58 L613.00,98.24 L613.50,98.88 L614.00,99.48 L614.50,100.04 L615.00,100.54 L615.50,100.99 L616.00,101.39 L616.50,101.74 L617.00,102.04 L617.50,102.28 L618.00,102.49 L618.50,102.66 L619.00,102.79 L619.50,102.90 L620.00,102.99 L620.50,103.05 L621.00,103.10 L621.50,103.14 L622.00,103.17 L622.50,103.20 L623.00,103.22 L623.50,103.23 L624.00,103.25 L624.50,103.26 L625.00,103.27 L625.50,103.28 L626.00,103.29 L626.50,103.29 L627.00,103.30 L627.50,103.31 L628.00,103.31 L628.50,103.32 L629.00,103.33 L629.50,103.33 L630.00,103.34 L630.50,103.35 L631.00,103.35 L631.50,103.36 L632.00,103.36 L632.50,103.37 L633.00,103.37 L633.50,103.38 L634.00,103.38 L634.50,103.38 L635.00,103.39 L635.50,103.39 L636.00,103.40 L636.50,103.40 L637.00,103.40 L637.50,103.41 L638.00,103.41 L638.50,103.41 L639.00,103.42" fill="none" stroke="#c05050" stroke-width="0.75" stroke-linejoin="round"/>
<path d="M588.00,103.44 L588.50,103.40 L589.00,103.34 L589.50,103.25 L590.00,103.11 L590.50,102.92 L591.00,102.66 L591.50,102.31 L592.00,101.84 L592.50,101.23 L593.00,100.46 L593.50,99.51 L594.00,98.37 L594.50,97.01 L595.00,95.44 L595.50,93.67 L596.00,91.71 L596.50,89.59 L597.00,87.34 L597.50,85.01 L598.00,82.65 L598.50,80.31 L599.00,78.05 L599.50,75.92 L600.00,73.97 L600.50,72.23 L601.00,70.72 L601.50,69.48 L602.00,68.49 L602.50,67.76 L603.00,67.26 L603.50,66.96 L604.00,66.83 L604.50,66.80 L605.00,66.82 L605.50,66.94 L606.00,67.20 L606.50,67.65 L607.00,68.31 L607.50,69.19 L608.00,70.32 L608.50,71.68 L609.00,73.26 L609.50,75.05 L610.00,77.02 L610.50,79.12 L611.00,81.32 L611.50,83.56 L612.00,85.80 L612.50,87.99 L613.00,90.08 L613.50,92.05 L614.00,93.86 L614.50,95.48 L615.00,96.92 L615.50,98.17 L616.00,99.22 L616.50,100.10 L617.00,100.81 L617.50,101.38 L618.00,101.83 L618.50,102.17 L619.00,102.43 L619.50,102.63 L620.00,102.77 L620.50,102.87 L621.00,102.95 L621.50,103.00 L622.00,103.04 L622.50,103.07 L623.00,103.09 L623.50,103.11 L624.00,103.13 L624.50,103.15 L625.00,103.16 L625.50,103.17 L626.00,103.18 L626.50,103.19 L627.00,103.21 L627.50,103.22 L628.00,103.23 L628.50,103.24 L629.00,103.24 L629.50,103.25 L630.00,103.26 L630.50,103.27 L631.00,103.28 L631.50,103.29 L632.00,103.29 L632.50,103.30 L633.00,103.31 L633.50,103.32 L634.00,103.32 L634.50,103.33 L635.00,103.33 L635.50,103.34 L636.00,103.35 L636.50,103.35 L637.00,103.36 L637.50,103.36 L638.00,103.37 L638.50,103.37 L639.00,103.38 L639.50,103.38 L640.00,103.38 L640.50,103.39 L641.00,103.39 L641.50,103.40 L642.00,103.40 L642.50,103.40 L643.00,103.41 L643.50,103.41 L644.00,103.41 L644.50,103.42" fill="none" stroke="#aa5ade" stroke-width="0.75" stroke-linejoin="round"/>
<path d="M587.50,103.43 L588.00,103.39 L588.50,103.32 L589.00,103.21 L589.50,103.04 L590.00,102.80 L590.50,102.46 L591.00,101.98 L591.50,101.33 L592.00,100.47 L592.50,99.37 L593.00,97.96 L593.50,96.24 L594.00,94.15 L594.50,91.70 L595.00,88.87 L595.50,85.69 L596.00,82.19 L596.50,78.42 L597.00,74.45 L597.50,70.38 L598.00,66.28 L598.50,62.27 L599.00,58.43 L599.50,54.86 L600.00,51.62 L600.50,48.79 L601.00,46.39 L601.50,44.46 L602.00,42.97 L602.50,41.92 L603.00,41.26 L603.50,40.91 L604.00,40.80 L604.50,40.81 L605.00,40.94 L605.50,41.28 L606.00,41.91 L606.50,42.88 L607.00,44.23 L607.50,45.99 L608.00,48.15 L608.50,50.71 L609.00,53.64 L609.50,56.89 L610.00,60.39 L610.50,64.09 L611.00,67.90 L611.50,71.73 L612.00,75.52 L612.50,79.17 L613.00,82.62 L613.50,85.82 L614.00,88.73 L614.50,91.32 L615.00,93.58 L615.50,95.51 L616.00,97.12 L616.50,98.45 L617.00,99.52 L617.50,100.36 L618.00,101.02 L618.50,101.51 L619.00,101.89 L619.50,102.16 L620.00,102.36 L620.50,102.51 L621.00,102.61 L621.50,102.69 L622.00,102.75 L622.50,102.79 L623.00,102.83 L623.50,102.86 L624.00,102.89 L624.50,102.91 L625.00,102.93 L625.50,102.95 L626.00,102.97 L626.50,102.99 L627.00,103.01 L627.50,103.03 L628.00,103.04 L628.50,103.06 L629.00,103.07 L629.50,103.09 L630.00,103.10 L630.50,103.12 L631.00,103.13 L631.50,103.14 L632.00,103.16 L632.50,103.17 L633.00,103.18 L633.50,103.19 L634.00,103.20 L634.50,103.21 L635.00,103.22 L635.50,103.23 L636.00,103.24 L636.50,103.25 L637.00,103.26 L637.50,103.27 L638.00,103.28 L638.50,103.28 L639.00,103.29 L639.50,103.30 L640.00,103.31 L640.50,103.31 L641.00,103.32 L641.50,103.33 L642.00,103.33 L642.50,103.34 L643.00,103.34 L643.50,103.35 L644.00,103.35 L644.50,103.36 L645.00,103.36 L645.50,103.37 L646.00,103.37 L646.50,103.38 L647.00,103.38 L647.50,103.39 L648.00,103.39 L648.50,103.39 L649.00,103.40" fill="none" stroke="#4545f8" stroke-width="0.75" stroke-linejoin="round"/>
<line x1="82.30" y1="155.00" x2="82.30" y2="234.40" stroke="#9090e0" stroke-width="0.80" />
<line x1="46.50" y1="234.40" x2="130.00" y2="234.40" stroke="#5656ee" stroke-width="0.70" />
<path d="M74.00,234.35 L74.50,234.32 L75.00,234.27 L75.50,234.22 L76.00,234.14 L76.50,234.03 L77.00,233.90 L77.50,233.74 L78.00,233.55 L78.50,233.32 L79.00,233.07 L79.50,232.80 L80.00,232.51 L80.50,232.21 L81.00,231.92 L81.50,231.65 L82.00,231.40 L82.50,231.18 L83.00,231.00 L83.50,230.87 L84.00,230.77 L84.50,230.72 L85.00,230.70 L85.50,230.70 L86.00,230.73 L86.50,230.79 L87.00,230.89 L87.50,231.03 L88.00,231.22 L88.50,231.45 L89.00,231.70 L89.50,231.98 L90.00,232.27 L90.50,232.57 L91.00,232.85 L91.50,233.12 L92.00,233.37 L92.50,233.58 L93.00,233.75 L93.50,233.88 L94.00,233.95 L94.50,233.95 L95.00,233.86 L95.50,233.67 L96.00,233.38 L96.50,232.98 L97.00,232.52 L97.50,232.02 L98.00,231.53 L98.50,231.12 L99.00,230.80 L99.50,230.60 L100.00,230.51 L100.50,230.50 L101.00,230.54 L101.50,230.67 L102.00,230.92 L102.50,231.28 L103.00,231.73 L103.50,232.24 L104.00,232.75 L104.50,233.21 L105.00,233.60 L105.50,233.90 L106.00,234.11 L106.50,234.24 L107.00,234.32 L107.50,234.36" fill="none" stroke="#c05050" stroke-width="0.75" stroke-linejoin="round"/>
<path d="M74.50,234.35 L75.00,234.31 L75.50,234.25 L76.00,234.14 L76.50,233.97 L77.00,233.72 L77.50,233.37 L78.00,232.90 L78.50,232.30 L79.00,231.57 L79.50,230.72 L80.00,229.78 L80.50,228.78 L81.00,227.77 L81.50,226.80 L82.00,225.93 L82.50,225.18 L83.00,224.59 L83.50,224.18 L84.00,223.93 L84.50,223.82 L85.00,223.80 L85.50,223.84 L86.00,224.00 L86.50,224.29 L87.00,224.75 L87.50,225.37 L88.00,226.13 L88.50,227.01 L89.00,227.97 L89.50,228.96 L90.00,229.93 L90.50,230.84 L91.00,231.65 L91.50,232.35 L92.00,232.93 L92.50,233.38 L93.00,233.72 L93.50,233.96 L94.00,234.13 L94.50,234.24 L95.00,234.31 L95.50,234.35" fill="none" stroke="#aa5ade" stroke-width="0.75" stroke-linejoin="round"/>
<path d="M74.00,234.36 L74.50,234.31 L75.00,234.24 L75.50,234.12 L76.00,233.93 L76.50,233.64 L77.00,233.23 L77.50,232.66 L78.00,231.91 L78.50,230.97 L79.00,229.85 L79.50,228.56 L80.00,227.16 L80.50,225.70 L81.00,224.26 L81.50,222.91 L82.00,221.71 L82.50,220.72 L83.00,219.97 L83.50,219.47 L84.00,219.20 L84.50,219.10 L85.00,219.11 L85.50,219.23 L86.00,219.53 L86.50,220.05 L87.00,220.80 L87.50,221.78 L88.00,222.96 L88.50,224.28 L89.00,225.69 L89.50,227.11 L90.00,228.48 L90.50,229.75 L91.00,230.86 L91.50,231.80 L92.00,232.55 L92.50,233.14 L93.00,233.57 L93.50,233.88 L94.00,234.08 L94.50,234.22 L95.00,234.30 L95.50,234.35" fill="none" stroke="#4545f8" stroke-width="0.75" stroke-linejoin="round"/>
<line x1="174.30" y1="157.00" x2="174.30" y2="234.40" stroke="#9090e0" stroke-width="0.80" />
<line x1="133.00" y1="234.40" x2="216.00" y2="234.40" stroke="#5656ee" stroke-width="0.70" />
<path d="M169.50,234.33 L170.00,234.27 L170.50,234.17 L171.00,234.00 L171.50,233.74 L172.00,233.34 L172.50,232.79 L173.00,232.03 L173.50,231.05 L174.00,229.85 L174.50,228.42 L175.00,226.83 L175.50,225.12 L176.00,223.38 L176.50,221.71 L177.00,220.20 L177.50,218.92 L178.00,217.94 L178.50,217.27 L179.00,216.91 L179.50,216.80 L180.00,216.83 L180.50,217.01 L181.00,217.39 L181.50,218.01 L182.00,218.87 L182.50,219.95 L183.00,221.21 L183.50,222.62 L184.00,224.09 L184.50,225.59 L185.00,227.04 L185.50,228.39 L186.00,229.60 L186.50,230.65 L187.00,231.53 L187.50,232.23 L188.00,232.78 L188.50,233.19 L189.00,233.48 L189.50,233.67 L190.00,233.79 L190.50,233.84 L191.00,233.83 L191.50,233.78 L192.00,233.68 L192.50,233.55 L193.00,233.39 L193.50,233.21 L194.00,233.03 L194.50,232.86 L195.00,232.73 L195.50,232.65 L196.00,232.63 L196.50,232.67 L197.00,232.77 L197.50,232.92 L198.00,233.10 L198.50,233.30 L199.00,233.49 L199.50,233.68 L200.00,233.84 L200.50,233.97 L201.00,234.08 L201.50,234.16 L202.00,234.22 L202.50,234.26 L203.00,234.28 L203.50,234.30 L204.00,234.31 L204.50,234.32 L205.00,234.33" fill="none" stroke="#c05050" stroke-width="0.75" stroke-linejoin="round"/>
<path d="M168.00,234.36 L168.50,234.32 L169.00,234.24 L169.50,234.09 L170.00,233.85 L170.50,233.46 L171.00,232.84 L171.50,231.94 L172.00,230.65 L172.50,228.90 L173.00,226.63 L173.50,223.80 L174.00,220.45 L174.50,216.63 L175.00,212.49 L175.50,208.20 L176.00,203.99 L176.50,200.06 L177.00,196.62 L177.50,193.83 L178.00,191.78 L178.50,190.50 L179.00,189.90 L179.50,189.80 L180.00,189.99 L180.50,190.62 L181.00,191.78 L181.50,193.53 L182.00,195.85 L182.50,198.69 L183.00,201.96 L183.50,205.53 L184.00,209.25 L184.50,212.97 L185.00,216.56 L185.50,219.88 L186.00,222.86 L186.50,225.44 L187.00,227.59 L187.50,229.33 L188.00,230.69 L188.50,231.72 L189.00,232.47 L189.50,233.00 L190.00,233.37 L190.50,233.62 L191.00,233.78 L191.50,233.89 L192.00,233.96 L192.50,234.01 L193.00,234.04 L193.50,234.07 L194.00,234.09 L194.50,234.10 L195.00,234.12 L195.50,234.13 L196.00,234.15 L196.50,234.16 L197.00,234.17 L197.50,234.18 L198.00,234.19 L198.50,234.20 L199.00,234.21 L199.50,234.22 L200.00,234.23 L200.50,234.24 L201.00,234.25 L201.50,234.25 L202.00,234.26 L202.50,234.27 L203.00,234.27 L203.50,234.28 L204.00,234.29 L204.50,234.29 L205.00,234.30 L205.50,234.30 L206.00,234.31 L206.50,234.31 L207.00,234.32 L207.50,234.32 L208.00,234.32 L208.50,234.33" fill="none" stroke="#aa5ade" stroke-width="0.75" stroke-linejoin="round"/>
<path d="M168.00,234.34 L168.50,234.29 L169.00,234.19 L169.50,234.01 L170.00,233.70 L170.50,233.21 L171.00,232.46 L171.50,231.34 L172.00,229.75 L172.50,227.60 L173.00,224.80 L173.50,221.29 L174.00,217.09 L174.50,212.27 L175.00,206.96 L175.50,201.38 L176.00,195.78 L176.50,190.44 L177.00,185.61 L177.50,181.53 L178.00,178.35 L178.50,176.15 L179.00,174.88 L179.50,174.42 L180.00,174.45 L180.50,174.89 L181.00,175.94 L181.50,177.73 L182.00,180.26 L182.50,183.52 L183.00,187.42 L183.50,191.83 L184.00,196.58 L184.50,201.49 L185.00,206.36 L185.50,211.04 L186.00,215.36 L186.50,219.22 L187.00,222.57 L187.50,225.36 L188.00,227.63 L188.50,229.40 L189.00,230.74 L189.50,231.72 L190.00,232.39 L190.50,232.83 L191.00,233.09 L191.50,233.20 L192.00,233.21 L192.50,233.13 L193.00,233.00 L193.50,232.83 L194.00,232.65 L194.50,232.48 L195.00,232.35 L195.50,232.26 L196.00,232.25 L196.50,232.30 L197.00,232.42 L197.50,232.59 L198.00,232.80 L198.50,233.03 L199.00,233.26 L199.50,233.48 L200.00,233.66 L200.50,233.82 L201.00,233.94 L201.50,234.04 L202.00,234.11 L202.50,234.15 L203.00,234.19 L203.50,234.21 L204.00,234.23 L204.50,234.24 L205.00,234.25 L205.50,234.26 L206.00,234.27 L206.50,234.28 L207.00,234.28 L207.50,234.29 L208.00,234.29 L208.50,234.30 L209.00,234.30 L209.50,234.31 L210.00,234.31 L210.50,234.32 L211.00,234.32 L211.50,234.33" fill="none" stroke="#7060e0" stroke-width="0.75" stroke-linejoin="round"/>
<path d="M167.50,234.35 L168.00,234.30 L168.50,234.20 L169.00,234.03 L169.50,233.74 L170.00,233.26 L170.50,232.52 L171.00,231.42 L171.50,229.85 L172.00,227.69 L172.50,224.86 L173.00,221.29 L173.50,216.97 L174.00,211.97 L174.50,206.43 L175.00,200.54 L175.50,194.58 L176.00,188.83 L176.50,183.57 L177.00,179.07 L177.50,175.49 L178.00,172.94 L178.50,171.41 L179.00,170.77 L179.50,170.72 L180.00,171.10 L180.50,172.13 L181.00,173.96 L181.50,176.62 L182.00,180.10 L182.50,184.29 L183.00,189.06 L183.50,194.22 L184.00,199.55 L184.50,204.84 L185.00,209.90 L185.50,214.56 L186.00,218.70 L186.50,222.26 L187.00,225.21 L187.50,227.58 L188.00,229.42 L188.50,230.79 L189.00,231.78 L189.50,232.47 L190.00,232.91 L190.50,233.18 L191.00,233.31 L191.50,233.34 L192.00,233.29 L192.50,233.17 L193.00,233.02 L193.50,232.84 L194.00,232.65 L194.50,232.48 L195.00,232.34 L195.50,232.26 L196.00,232.24 L196.50,232.29 L197.00,232.41 L197.50,232.59 L198.00,232.80 L198.50,233.03 L199.00,233.26 L199.50,233.47 L200.00,233.66 L200.50,233.81 L201.00,233.94 L201.50,234.03 L202.00,234.10 L202.50,234.15 L203.00,234.19 L203.50,234.21 L204.00,234.23 L204.50,234.24 L205.00,234.25 L205.50,234.26 L206.00,234.27 L206.50,234.27 L207.00,234.28 L207.50,234.29 L208.00,234.29 L208.50,234.30 L209.00,234.30 L209.50,234.31 L210.00,234.31 L210.50,234.32 L211.00,234.32 L211.50,234.32 L212.00,234.33" fill="none" stroke="#4545f8" stroke-width="0.75" stroke-linejoin="round"/>
<line x1="255.00" y1="234.40" x2="339.00" y2="234.40" stroke="#5656ee" stroke-width="0.70" />
<path d="M283.50,234.40 L284.00,234.15 L284.50,233.91 L285.00,233.68 L285.50,233.46 L286.00,233.26 L286.50,233.07 L287.00,232.90 L287.50,232.74 L288.00,232.59 L288.50,232.45 L289.00,232.33 L289.50,232.22 L290.00,232.12 L290.50,232.03 L291.00,231.96 L291.50,231.90 L292.00,231.86 L292.50,231.83 L293.00,231.81 L293.50,231.80 L294.00,231.81 L294.50,231.83 L295.00,231.86 L295.50,231.90 L296.00,231.96 L296.50,232.03 L297.00,232.12 L297.50,232.22 L298.00,232.33 L298.50,232.45 L299.00,232.59 L299.50,232.74 L300.00,232.90 L300.50,233.07 L301.00,233.26 L301.50,233.46 L302.00,233.68 L302.50,233.91 L303.00,234.15 L303.50,234.40" fill="none" stroke="#c05050" stroke-width="0.75" stroke-linejoin="round"/>
<path d="M283.20,234.40 L283.50,234.10 L284.00,233.62 L284.50,233.17 L285.00,232.74 L285.50,232.34 L286.00,231.96 L286.50,231.60 L287.00,231.27 L287.50,230.96 L288.00,230.68 L288.50,230.43 L289.00,230.19 L289.50,229.98 L290.00,229.80 L290.50,229.64 L291.00,229.51 L291.50,229.40 L292.00,229.31 L292.50,229.25 L293.00,229.21 L293.50,229.20 L294.00,229.21 L294.50,229.25 L295.00,229.31 L295.50,229.40 L296.00,229.51 L296.50,229.64 L297.00,229.80 L297.50,229.98 L298.00,230.19 L298.50,230.43 L299.00,230.68 L299.50,230.96 L300.00,231.27 L300.50,231.60 L301.00,231.96 L301.50,232.34 L302.00,232.74 L302.50,233.17 L303.00,233.62 L303.50,234.10 L303.80,234.40" fill="none" stroke="#aa5ade" stroke-width="0.75" stroke-linejoin="round"/>
<path d="M282.70,234.40 L283.00,233.92 L283.50,233.15 L284.00,232.42 L284.50,231.73 L285.00,231.07 L285.50,230.46 L286.00,229.88 L286.50,229.34 L287.00,228.84 L287.50,228.37 L288.00,227.95 L288.50,227.56 L289.00,227.22 L289.50,226.91 L290.00,226.63 L290.50,226.40 L291.00,226.20 L291.50,226.05 L292.00,225.93 L292.50,225.85 L293.00,225.81 L293.30,225.80 L293.50,225.80 L294.00,225.84 L294.50,225.91 L295.00,226.02 L295.50,226.17 L296.00,226.36 L296.50,226.58 L297.00,226.85 L297.50,227.15 L298.00,227.49 L298.50,227.87 L299.00,228.29 L299.50,228.74 L300.00,229.24 L300.50,229.77 L301.00,230.34 L301.50,230.95 L302.00,231.59 L302.50,232.28 L303.00,233.00 L303.50,233.76 L303.90,234.40" fill="none" stroke="#4545f8" stroke-width="0.75" stroke-linejoin="round"/>
<line x1="342.50" y1="234.40" x2="426.00" y2="234.40" stroke="#5656ee" stroke-width="0.70" />
<path d="M369.00,234.34 L369.50,234.29 L370.00,234.22 L370.50,234.10 L371.00,233.92 L371.50,233.67 L372.00,233.33 L372.50,232.88 L373.00,232.32 L373.50,231.63 L374.00,230.81 L374.50,229.88 L375.00,228.86 L375.50,227.77 L376.00,226.64 L376.50,225.52 L377.00,224.44 L377.50,223.42 L378.00,222.51 L378.50,221.70 L379.00,221.03 L379.50,220.49 L380.00,220.08 L380.50,219.78 L381.00,219.58 L381.50,219.47 L382.00,219.42 L382.50,219.40 L383.00,219.40 L383.50,219.41 L384.00,219.45 L384.50,219.54 L385.00,219.70 L385.50,219.95 L386.00,220.31 L386.50,220.78 L387.00,221.38 L387.50,222.09 L388.00,222.93 L388.50,223.86 L389.00,224.88 L389.50,225.95 L390.00,227.04 L390.50,228.12 L391.00,229.16 L391.50,230.13 L392.00,231.00 L392.50,231.77 L393.00,232.42 L393.50,232.95 L394.00,233.37 L394.50,233.69 L395.00,233.93 L395.50,234.10 L396.00,234.21 L396.50,234.29 L397.00,234.34" fill="none" stroke="#c05050" stroke-width="0.75" stroke-linejoin="round"/>
<path d="M368.00,234.34 L368.50,234.29 L369.00,234.20 L369.50,234.05 L370.00,233.81 L370.50,233.46 L371.00,232.94 L371.50,232.22 L372.00,231.26 L372.50,230.01 L373.00,228.46 L373.50,226.59 L374.00,224.42 L374.50,221.97 L375.00,219.30 L375.50,216.48 L376.00,213.60 L376.50,210.75 L377.00,208.00 L377.50,205.44 L378.00,203.14 L378.50,201.13 L379.00,199.45 L379.50,198.10 L380.00,197.07 L380.50,196.34 L381.00,195.85 L381.50,195.57 L382.00,195.44 L382.50,195.40 L383.00,195.40 L383.50,195.42 L384.00,195.52 L384.50,195.75 L385.00,196.15 L385.50,196.77 L386.00,197.66 L386.50,198.84 L387.00,200.32 L387.50,202.12 L388.00,204.21 L388.50,206.56 L389.00,209.13 L389.50,211.84 L390.00,214.63 L390.50,217.41 L391.00,220.11 L391.50,222.64 L392.00,224.95 L392.50,227.00 L393.00,228.75 L393.50,230.21 L394.00,231.38 L394.50,232.29 L395.00,232.97 L395.50,233.46 L396.00,233.81 L396.50,234.04 L397.00,234.19 L397.50,234.28 L398.00,234.33" fill="none" stroke="#aa5ade" stroke-width="0.75" stroke-linejoin="round"/>
<path d="M367.00,234.34 L367.50,234.28 L368.00,234.18 L368.50,234.01 L369.00,233.74 L369.50,233.33 L370.00,232.72 L370.50,231.84 L371.00,230.65 L371.50,229.07 L372.00,227.05 L372.50,224.55 L373.00,221.56 L373.50,218.09 L374.00,214.20 L374.50,209.97 L375.00,205.49 L375.50,200.89 L376.00,196.30 L376.50,191.87 L377.00,187.70 L377.50,183.90 L378.00,180.54 L378.50,177.68 L379.00,175.34 L379.50,173.49 L380.00,172.13 L380.50,171.18 L381.00,170.58 L381.50,170.26 L382.00,170.13 L382.50,170.10 L383.00,170.11 L383.50,170.18 L384.00,170.39 L384.50,170.82 L385.00,171.54 L385.50,172.62 L386.00,174.11 L386.50,176.06 L387.00,178.48 L387.50,181.38 L388.00,184.74 L388.50,188.49 L389.00,192.57 L389.50,196.89 L390.00,201.32 L390.50,205.74 L391.00,210.05 L391.50,214.12 L392.00,217.86 L392.50,221.20 L393.00,224.09 L393.50,226.53 L394.00,228.52 L394.50,230.08 L395.00,231.28 L395.50,232.15 L396.00,232.76 L396.50,233.16 L397.00,233.40 L397.50,233.52 L398.00,233.57 L398.50,233.55 L399.00,233.50 L399.50,233.44 L400.00,233.36 L400.50,233.30 L401.00,233.25 L401.50,233.22 L402.00,233.21 L402.50,233.24 L403.00,233.29 L403.50,233.36 L404.00,233.45 L404.50,233.55 L405.00,233.66 L405.50,233.76 L406.00,233.87 L406.50,233.96 L407.00,234.04 L407.50,234.11 L408.00,234.16 L408.50,234.21 L409.00,234.24 L409.50,234.27 L410.00,234.29 L410.50,234.30 L411.00,234.31 L411.50,234.32 L412.00,234.33" fill="none" stroke="#4545f8" stroke-width="0.75" stroke-linejoin="round"/>
<line x1="488.50" y1="234.60" x2="570.00" y2="234.60" stroke="#5656ee" stroke-width="0.70" />
<path d="M522.00,234.53 L522.50,234.50 L523.00,234.46 L523.50,234.42 L524.00,234.37 L524.50,234.32 L525.00,234.26 L525.50,234.20 L526.00,234.14 L526.50,234.08 L527.00,234.03 L527.50,233.99 L528.00,233.96 L528.50,233.93 L529.00,233.91 L529.50,233.90 L530.00,233.90 L530.50,233.90 L531.00,233.90 L531.50,233.92 L532.00,233.93 L532.50,233.96 L533.00,234.00 L533.50,234.04 L534.00,234.10 L534.50,234.15 L535.00,234.21 L535.50,234.27 L536.00,234.33 L536.50,234.38 L537.00,234.43 L537.50,234.47 L538.00,234.50 L538.50,234.53" fill="none" stroke="#c05050" stroke-width="0.75" stroke-linejoin="round"/>
<path d="M521.50,234.52 L522.00,234.48 L522.50,234.44 L523.00,234.38 L523.50,234.32 L524.00,234.24 L524.50,234.15 L525.00,234.06 L525.50,233.97 L526.00,233.88 L526.50,233.79 L527.00,233.71 L527.50,233.64 L528.00,233.59 L528.50,233.55 L529.00,233.52 L529.50,233.51 L530.00,233.50 L530.50,233.50 L531.00,233.51 L531.50,233.52 L532.00,233.55 L532.50,233.60 L533.00,233.66 L533.50,233.73 L534.00,233.81 L534.50,233.90 L535.00,233.99 L535.50,234.08 L536.00,234.17 L536.50,234.26 L537.00,234.33 L537.50,234.39 L538.00,234.45 L538.50,234.49 L539.00,234.52" fill="none" stroke="#aa5ade" stroke-width="0.75" stroke-linejoin="round"/>
<path d="M520.50,234.54 L521.00,234.51 L521.50,234.47 L522.00,234.41 L522.50,234.34 L523.00,234.25 L523.50,234.15 L524.00,234.03 L524.50,233.89 L525.00,233.75 L525.50,233.60 L526.00,233.45 L526.50,233.31 L527.00,233.18 L527.50,233.06 L528.00,232.97 L528.50,232.90 L529.00,232.85 L529.50,232.82 L530.00,232.80 L530.50,232.80 L531.00,232.81 L531.50,232.82 L532.00,232.86 L532.50,232.92 L533.00,233.00 L533.50,233.11 L534.00,233.23 L534.50,233.36 L535.00,233.51 L535.50,233.66 L536.00,233.81 L536.50,233.95 L537.00,234.08 L537.50,234.19 L538.00,234.29 L538.50,234.37 L539.00,234.43 L539.50,234.49 L540.00,234.52" fill="none" stroke="#4545f8" stroke-width="0.75" stroke-linejoin="round"/>
<line x1="612.80" y1="160.00" x2="612.80" y2="234.60" stroke="#b0b0bc" stroke-width="0.80" />
<line x1="614.90" y1="160.00" x2="614.90" y2="234.60" stroke="#cfc8ec" stroke-width="0.90" />
<line x1="573.50" y1="234.60" x2="655.00" y2="234.60" stroke="#5656ee" stroke-width="0.70" />
<path d="M598.00,234.57 L598.50,234.50 L599.00,234.32 L599.50,233.91 L600.00,233.07 L600.50,231.56 L601.00,229.14 L601.50,225.65 L602.00,221.09 L602.50,215.63 L603.00,209.64 L603.50,203.58 L604.00,197.88 L604.50,192.90 L605.00,188.88 L605.50,185.86 L606.00,183.80 L606.50,182.53 L607.00,181.85 L607.50,181.58 L608.00,181.50 L608.50,181.50 L609.00,181.52 L609.50,181.65 L610.00,182.06 L610.50,182.95 L611.00,184.52 L611.50,186.95 L612.00,190.37 L612.50,194.79 L613.00,200.09 L613.50,205.98 L614.00,212.08 L614.50,217.90 L615.00,223.03 L615.50,227.18 L616.00,230.23 L616.50,232.26 L617.00,233.47 L617.50,234.11 L618.00,234.41 L618.50,234.54" fill="none" stroke="#9a3048" stroke-width="0.75" stroke-linejoin="round"/>
<path d="M598.50,234.54 L599.00,234.42 L599.50,234.14 L600.00,233.55 L600.50,232.44 L601.00,230.60 L601.50,227.82 L602.00,224.03 L602.50,219.32 L603.00,213.91 L603.50,208.19 L604.00,202.57 L604.50,197.44 L605.00,193.07 L605.50,189.61 L606.00,187.07 L606.50,185.38 L607.00,184.36 L607.50,183.84 L608.00,183.64 L608.50,183.60 L609.00,183.60 L609.50,183.63 L610.00,183.79 L610.50,184.22 L611.00,185.12 L611.50,186.67 L612.00,189.03 L612.50,192.30 L613.00,196.50 L613.50,201.50 L614.00,207.04 L614.50,212.78 L615.00,218.28 L615.50,223.16 L616.00,227.14 L616.50,230.12 L617.00,232.14 L617.50,233.38 L618.00,234.05 L618.50,234.38 L619.00,234.52" fill="none" stroke="#aa5ade" stroke-width="0.75" stroke-linejoin="round"/>
<path d="M597.00,234.53 L597.50,234.44 L598.00,234.27 L598.50,233.94 L599.00,233.35 L599.50,232.40 L600.00,230.92 L600.50,228.77 L601.00,225.83 L601.50,222.02 L602.00,217.36 L602.50,211.93 L603.00,205.94 L603.50,199.65 L604.00,193.36 L604.50,187.37 L605.00,181.96 L605.50,177.32 L606.00,173.56 L606.50,170.72 L607.00,168.74 L607.50,167.51 L608.00,166.87 L608.50,166.63 L609.00,166.60 L609.50,166.63 L610.00,166.87 L610.50,167.51 L611.00,168.74 L611.50,170.72 L612.00,173.56 L612.50,177.32 L613.00,181.96 L613.50,187.37 L614.00,193.36 L614.50,199.65 L615.00,205.94 L615.50,211.93 L616.00,217.36 L616.50,222.02 L617.00,225.83 L617.50,228.77 L618.00,230.92 L618.50,232.40 L619.00,233.35 L619.50,233.94 L620.00,234.27 L620.50,234.44 L621.00,234.53" fill="none" stroke="#7060e0" stroke-width="0.75" stroke-linejoin="round"/>
<path d="M596.50,234.54 L597.00,234.46 L597.50,234.30 L598.00,234.00 L598.50,233.45 L599.00,232.55 L599.50,231.13 L600.00,229.06 L600.50,226.17 L601.00,222.40 L601.50,217.73 L602.00,212.25 L602.50,206.12 L603.00,199.63 L603.50,193.07 L604.00,186.77 L604.50,181.01 L605.00,176.02 L605.50,171.93 L606.00,168.79 L606.50,166.57 L607.00,165.15 L607.50,164.37 L608.00,164.06 L608.50,164.00 L609.00,164.02 L609.50,164.21 L610.00,164.77 L610.50,165.91 L611.00,167.80 L611.50,170.56 L612.00,174.27 L612.50,178.91 L613.00,184.39 L613.50,190.50 L614.00,196.99 L614.50,203.55 L615.00,209.86 L615.50,215.63 L616.00,220.64 L616.50,224.78 L617.00,228.01 L617.50,230.39 L618.00,232.05 L618.50,233.14 L619.00,233.82 L619.50,234.20 L620.00,234.41 L620.50,234.52" fill="none" stroke="#4545f8" stroke-width="0.75" stroke-linejoin="round"/>
<rect x="87.00" y="88.60" width="5.00" height="1.4" fill="#9a9af2" opacity="0.6"/>
<polygon points="84.40,91.40 87.20,92.60 84.80,93.60" fill="#111"/>
<rect x="170.20" y="31.50" width="5.00" height="1.4" fill="#9a9af2" opacity="0.6"/>
<polygon points="169.20,36.60 172.00,37.80 169.60,38.80" fill="#111"/>
<rect x="296.00" y="49.80" width="5.00" height="1.4" fill="#9a9af2" opacity="0.6"/>
<polygon points="293.40,52.60 296.20,53.80 293.80,54.80" fill="#111"/>
<rect x="384.00" y="37.00" width="5.00" height="1.4" fill="#9a9af2" opacity="0.6"/>
<polygon points="381.20,40.00 384.00,41.20 381.60,42.20" fill="#111"/>
<rect x="520.10" y="63.80" width="5.00" height="1.4" fill="#9a9af2" opacity="0.6"/>
<polygon points="517.50,66.30 520.30,67.50 517.90,68.50" fill="#111"/>
<rect x="602.40" y="37.00" width="5.00" height="1.4" fill="#9a9af2" opacity="0.6"/>
<polygon points="599.80,39.80 602.60,41.00 600.20,42.00" fill="#111"/>
<rect x="83.20" y="215.60" width="5.00" height="1.4" fill="#9a9af2" opacity="0.6"/>
<polygon points="80.60,218.30 83.40,219.50 81.00,220.50" fill="#111"/>
<rect x="178.00" y="167.40" width="5.00" height="1.4" fill="#9a9af2" opacity="0.6"/>
<polygon points="175.00,170.20 177.80,171.40 175.40,172.40" fill="#111"/>
<rect x="291.50" y="221.40" width="5.00" height="1.4" fill="#9a9af2" opacity="0.6"/>
<polygon points="289.20,224.60 292.00,225.80 289.60,226.80" fill="#111"/>
<rect x="381.00" y="164.50" width="5.00" height="1.4" fill="#9a9af2" opacity="0.6"/>
<polygon points="378.20,167.40 381.00,168.60 378.60,169.60" fill="#111"/>
<rect x="529.00" y="229.40" width="5.00" height="1.4" fill="#9a9af2" opacity="0.6"/>
<polygon points="526.40,231.80 529.20,233.00 526.80,234.00" fill="#111"/>
<rect x="607.00" y="177.80" width="5.00" height="1.4" fill="#9a9af2" opacity="0.6"/>
<polygon points="604.40,180.30 607.20,181.50 604.80,182.50" fill="#111"/>
<rect x="201.00" y="99.80" width="4.50" height="1.4" fill="#9a9af2" opacity="0.6"/>
<rect x="544.50" y="100.00" width="5.00" height="1.4" fill="#9a9af2" opacity="0.6"/>
<rect x="405.50" y="97.20" width="5.00" height="1.4" fill="#c89ae8" opacity="0.6"/>
<rect x="193.50" y="229.80" width="4.50" height="1.4" fill="#d8a0a0" opacity="0.6"/>
<rect x="396.00" y="229.50" width="5.00" height="1.4" fill="#9a9af2" opacity="0.6"/>
<rect x="99.00" y="227.50" width="4.00" height="1.4" fill="#d8a0a0" opacity="0.6"/>
<rect x="190.00" y="29.50" width="3.00" height="1.4" fill="#a8a8f0" opacity="0.6"/>
<rect x="190.00" y="32.10" width="3.00" height="1.4" fill="#a8a8f0" opacity="0.6"/>
<rect x="539.00" y="27.00" width="3.00" height="1.4" fill="#a8a8f0" opacity="0.6"/>
<rect x="539.00" y="29.60" width="3.00" height="1.4" fill="#a8a8f0" opacity="0.6"/>
<rect x="622.00" y="27.00" width="3.00" height="1.4" fill="#a8a8f0" opacity="0.6"/>
<rect x="622.00" y="29.60" width="3.00" height="1.4" fill="#a8a8f0" opacity="0.6"/>
<rect x="170.00" y="28.00" width="3.00" height="1.4" fill="#a8a8f0" opacity="0.6"/>
<rect x="170.00" y="30.60" width="3.00" height="1.4" fill="#a8a8f0" opacity="0.6"/>
<rect x="515.00" y="26.00" width="3.00" height="1.4" fill="#a8a8f0" opacity="0.6"/>
<rect x="515.00" y="28.60" width="3.00" height="1.4" fill="#a8a8f0" opacity="0.6"/>
<rect x="45.45" y="22.90" width="174.15" height="84.30" fill="none" stroke="#111" stroke-width="1.6"/>
<line x1="132.50" y1="22.90" x2="132.50" y2="107.20" stroke="#111" stroke-width="1.60" />
<rect x="255.50" y="22.10" width="173.40" height="85.70" fill="none" stroke="#111" stroke-width="1.6"/>
<line x1="342.10" y1="22.10" x2="342.10" y2="107.80" stroke="#111" stroke-width="1.60" />
<rect x="480.50" y="20.50" width="169.50" height="86.70" fill="none" stroke="#111" stroke-width="1.6"/>
<line x1="565.60" y1="20.50" x2="565.60" y2="107.20" stroke="#111" stroke-width="1.60" />
<rect x="44.50" y="152.80" width="173.50" height="83.50" fill="none" stroke="#111" stroke-width="1.6"/>
<line x1="131.20" y1="152.80" x2="131.20" y2="236.30" stroke="#111" stroke-width="1.60" />
<rect x="252.90" y="152.50" width="174.90" height="84.50" fill="none" stroke="#111" stroke-width="1.6"/>
<line x1="340.30" y1="152.50" x2="340.30" y2="237.00" stroke="#111" stroke-width="1.60" />
<rect x="486.40" y="152.80" width="170.60" height="84.30" fill="none" stroke="#111" stroke-width="1.6"/>
<line x1="571.60" y1="152.80" x2="571.60" y2="237.10" stroke="#111" stroke-width="1.60" />
<text x="32.16" y="14.30" font-size="20.00" font-weight="bold" fill="#000" textLength="10.33" lengthAdjust="spacingAndGlyphs">a</text>
<text x="233.57" y="14.30" font-size="20.00" font-weight="bold" fill="#000" textLength="12.36" lengthAdjust="spacingAndGlyphs">b</text>
<text x="462.41" y="14.80" font-size="20.00" font-weight="bold" fill="#000" textLength="11.29" lengthAdjust="spacingAndGlyphs">c</text>
<text x="31.51" y="144.80" font-size="20.00" font-weight="bold" fill="#000" textLength="13.21" lengthAdjust="spacingAndGlyphs">d</text>
<text x="232.97" y="145.20" font-size="20.00" font-weight="bold" fill="#000" textLength="11.86" lengthAdjust="spacingAndGlyphs">e</text>
<text x="462.57" y="144.60" font-size="20.00" font-weight="bold" fill="#000" textLength="6.50" lengthAdjust="spacingAndGlyphs">f</text>
<text x="62.46" y="16.00" font-size="11.00" font-weight="normal" fill="#000" textLength="118.54" lengthAdjust="spacingAndGlyphs">CRT: EQFLDGDAWTNR</text>
<text x="258.23" y="16.60" font-size="10.90" font-weight="normal" fill="#000" textLength="165.09" lengthAdjust="spacingAndGlyphs">HSP70: LEDTENWLYEDGEDQPK</text>
<text x="501.93" y="14.60" font-size="10.90" font-weight="normal" fill="#000" textLength="117.99" lengthAdjust="spacingAndGlyphs">HSP90aa1: YIDQEELNK</text>
<text x="66.78" y="146.10" font-size="10.50" font-weight="normal" fill="#000" textLength="118.43" lengthAdjust="spacingAndGlyphs">PDIA3: SEPIPESNEGPVK</text>
<text x="273.58" y="146.60" font-size="10.90" font-weight="normal" fill="#000" textLength="117.61" lengthAdjust="spacingAndGlyphs">ANXA1: TPAQFDADELR</text>
<text x="479.48" y="146.60" font-size="11.00" font-weight="normal" fill="#000" textLength="188.64" lengthAdjust="spacingAndGlyphs">HMGB1: LGEMWNNTAADDKQPYEK</text>
<text x="49.11" y="36.10" font-size="13.50" font-weight="normal" fill="#000" textLength="43.80" lengthAdjust="spacingAndGlyphs">Control</text>
<text x="136.55" y="36.00" font-size="13.50" font-weight="normal" fill="#000" textLength="49.39" lengthAdjust="spacingAndGlyphs">gemCTx</text>
<text x="260.13" y="36.00" font-size="13.50" font-weight="normal" fill="#000" textLength="42.76" lengthAdjust="spacingAndGlyphs">Control</text>
<text x="346.45" y="36.00" font-size="13.50" font-weight="normal" fill="#000" textLength="49.69" lengthAdjust="spacingAndGlyphs">gemCTx</text>
<text x="485.21" y="35.00" font-size="13.50" font-weight="normal" fill="#000" textLength="43.70" lengthAdjust="spacingAndGlyphs">Control</text>
<text x="570.84" y="34.20" font-size="13.50" font-weight="normal" fill="#000" textLength="50.00" lengthAdjust="spacingAndGlyphs">gemCTx</text>
<text x="48.12" y="166.90" font-size="13.50" font-weight="normal" fill="#000" textLength="42.97" lengthAdjust="spacingAndGlyphs">Control</text>
<text x="135.34" y="166.50" font-size="13.50" font-weight="normal" fill="#000" textLength="50.20" lengthAdjust="spacingAndGlyphs">gemCTx</text>
<text x="257.02" y="166.20" font-size="13.50" font-weight="normal" fill="#000" textLength="42.97" lengthAdjust="spacingAndGlyphs">Control</text>
<text x="343.85" y="165.00" font-size="13.50" font-weight="normal" fill="#000" textLength="49.69" lengthAdjust="spacingAndGlyphs">gemCTx</text>
<text x="489.22" y="166.60" font-size="13.50" font-weight="normal" fill="#000" textLength="43.18" lengthAdjust="spacingAndGlyphs">Control</text>
<text x="574.84" y="165.00" font-size="13.50" font-weight="normal" fill="#000" textLength="50.00" lengthAdjust="spacingAndGlyphs">gemCTx</text>
<text x="31.62" y="39.60" font-size="10.60" font-weight="normal" fill="#000" textLength="10.44" lengthAdjust="spacingAndGlyphs">50</text>
<text x="31.44" y="69.90" font-size="10.60" font-weight="normal" fill="#000" textLength="10.64" lengthAdjust="spacingAndGlyphs">30</text>
<text x="35.62" y="107.20" font-size="10.60" font-weight="normal" fill="#000" textLength="6.86" lengthAdjust="spacingAndGlyphs">0</text>
<text x="244.26" y="37.50" font-size="10.60" font-weight="normal" fill="#000" textLength="6.45" lengthAdjust="spacingAndGlyphs">3</text>
<text x="236.07" y="73.10" font-size="10.60" font-weight="normal" fill="#000" textLength="13.33" lengthAdjust="spacingAndGlyphs">1.5</text>
<text x="245.61" y="108.40" font-size="10.60" font-weight="normal" fill="#000" textLength="5.58" lengthAdjust="spacingAndGlyphs">0</text>
<text x="462.15" y="34.70" font-size="10.60" font-weight="normal" fill="#000" textLength="15.00" lengthAdjust="spacingAndGlyphs">250</text>
<text x="461.90" y="64.80" font-size="10.60" font-weight="normal" fill="#000" textLength="15.25" lengthAdjust="spacingAndGlyphs">150</text>
<text x="471.28" y="108.50" font-size="10.60" font-weight="normal" fill="#000" textLength="5.93" lengthAdjust="spacingAndGlyphs">0</text>
<text x="31.18" y="168.90" font-size="10.60" font-weight="normal" fill="#000" textLength="11.21" lengthAdjust="spacingAndGlyphs">70</text>
<text x="31.47" y="196.70" font-size="10.60" font-weight="normal" fill="#000" textLength="10.91" lengthAdjust="spacingAndGlyphs">40</text>
<text x="36.05" y="236.40" font-size="10.60" font-weight="normal" fill="#000" textLength="6.40" lengthAdjust="spacingAndGlyphs">0</text>
<text x="236.81" y="164.00" font-size="10.60" font-weight="normal" fill="#000" textLength="11.31" lengthAdjust="spacingAndGlyphs">35</text>
<text x="237.20" y="196.00" font-size="10.60" font-weight="normal" fill="#000" textLength="11.09" lengthAdjust="spacingAndGlyphs">20</text>
<text x="243.45" y="237.80" font-size="10.60" font-weight="normal" fill="#000" textLength="5.00" lengthAdjust="spacingAndGlyphs">0</text>
<text x="467.76" y="166.70" font-size="10.60" font-weight="normal" fill="#000" textLength="14.99" lengthAdjust="spacingAndGlyphs">350</text>
<text x="467.64" y="198.30" font-size="10.60" font-weight="normal" fill="#000" textLength="15.11" lengthAdjust="spacingAndGlyphs">200</text>
<text x="476.84" y="238.00" font-size="10.60" font-weight="normal" fill="#000" textLength="6.52" lengthAdjust="spacingAndGlyphs">0</text>
<text x="62.02" y="120.30" font-size="10.30" font-weight="normal" fill="#000" textLength="10.56" lengthAdjust="spacingAndGlyphs">52</text>
<text x="95.80" y="120.30" font-size="10.30" font-weight="normal" fill="#000" textLength="11.03" lengthAdjust="spacingAndGlyphs">53</text>
<text x="150.30" y="120.20" font-size="10.30" font-weight="normal" fill="#000" textLength="11.09" lengthAdjust="spacingAndGlyphs">50</text>
<text x="183.44" y="120.20" font-size="10.30" font-weight="normal" fill="#000" textLength="10.00" lengthAdjust="spacingAndGlyphs">51</text>
<text x="270.72" y="120.00" font-size="10.30" font-weight="normal" fill="#000" textLength="10.66" lengthAdjust="spacingAndGlyphs">54</text>
<text x="301.51" y="120.00" font-size="10.30" font-weight="normal" fill="#000" textLength="10.90" lengthAdjust="spacingAndGlyphs">55</text>
<text x="352.02" y="120.00" font-size="10.30" font-weight="normal" fill="#000" textLength="10.67" lengthAdjust="spacingAndGlyphs">52</text>
<text x="391.42" y="120.00" font-size="10.30" font-weight="normal" fill="#000" textLength="10.60" lengthAdjust="spacingAndGlyphs">53</text>
<text x="498.09" y="118.70" font-size="10.30" font-weight="normal" fill="#000" textLength="18.22" lengthAdjust="spacingAndGlyphs">19.6</text>
<text x="531.60" y="118.70" font-size="10.30" font-weight="normal" fill="#000" textLength="10.98" lengthAdjust="spacingAndGlyphs">20</text>
<text x="577.18" y="118.70" font-size="10.30" font-weight="normal" fill="#000" textLength="18.29" lengthAdjust="spacingAndGlyphs">18.4</text>
<text x="611.38" y="118.70" font-size="10.30" font-weight="normal" fill="#000" textLength="18.33" lengthAdjust="spacingAndGlyphs">18.8</text>
<text x="58.15" y="247.10" font-size="10.30" font-weight="normal" fill="#000" textLength="17.53" lengthAdjust="spacingAndGlyphs">23.5</text>
<text x="96.74" y="247.10" font-size="10.30" font-weight="normal" fill="#000" textLength="17.64" lengthAdjust="spacingAndGlyphs">24.5</text>
<text x="162.61" y="247.30" font-size="10.30" font-weight="normal" fill="#000" textLength="10.77" lengthAdjust="spacingAndGlyphs">22</text>
<text x="202.24" y="247.30" font-size="10.30" font-weight="normal" fill="#000" textLength="10.27" lengthAdjust="spacingAndGlyphs">23</text>
<text x="268.73" y="249.10" font-size="10.30" font-weight="normal" fill="#000" textLength="10.78" lengthAdjust="spacingAndGlyphs">35</text>
<text x="306.52" y="249.10" font-size="10.30" font-weight="normal" fill="#000" textLength="10.97" lengthAdjust="spacingAndGlyphs">37</text>
<text x="354.74" y="249.10" font-size="10.30" font-weight="normal" fill="#000" textLength="10.43" lengthAdjust="spacingAndGlyphs">34</text>
<text x="392.53" y="249.10" font-size="10.30" font-weight="normal" fill="#000" textLength="10.90" lengthAdjust="spacingAndGlyphs">36</text>
<text x="507.64" y="248.20" font-size="10.30" font-weight="normal" fill="#000" textLength="10.65" lengthAdjust="spacingAndGlyphs">37</text>
<text x="544.14" y="248.20" font-size="10.30" font-weight="normal" fill="#000" textLength="10.40" lengthAdjust="spacingAndGlyphs">39</text>
<text x="587.63" y="248.20" font-size="10.30" font-weight="normal" fill="#000" textLength="10.69" lengthAdjust="spacingAndGlyphs">36</text>
<text x="624.34" y="248.20" font-size="10.30" font-weight="normal" fill="#000" textLength="10.47" lengthAdjust="spacingAndGlyphs">38</text>
<polygon points="23.5,18 19.2,27.0 28.0,27.0" fill="#000"/>
<line x1="23.60" y1="26.00" x2="23.60" y2="257.60" stroke="#000" stroke-width="1.60" />
<path d="M22.8,257.7 L677,256.4" stroke="#000" stroke-width="1.8" fill="none"/>
<polygon points="685,256.4 676.1,251.9 676.1,261.0" fill="#000"/>
<polygon points="455.1,162.4 450.7,170.6 459.7,170.6" fill="#000"/>
<line x1="455.10" y1="170.00" x2="455.10" y2="256.60" stroke="#000" stroke-width="1.70" />
<text transform="translate(11.8,190.8) rotate(-90)" font-size="13.6" font-weight="bold">Intensity (10^<tspan font-size="9" dy="-4.5">6</tspan><tspan dy="4.5">)</tspan></text>
<text transform="translate(447.6,251.6) rotate(-90)" font-size="13.4" font-weight="bold">Intensity (10^<tspan font-size="9" dy="-4.5">3</tspan><tspan dy="4.5">)</tspan></text>
<text x="301.29" y="274.70" font-size="13.50" font-weight="bold" fill="#000" textLength="94.58" lengthAdjust="spacingAndGlyphs">Retention time</text>
</svg></body></html>
